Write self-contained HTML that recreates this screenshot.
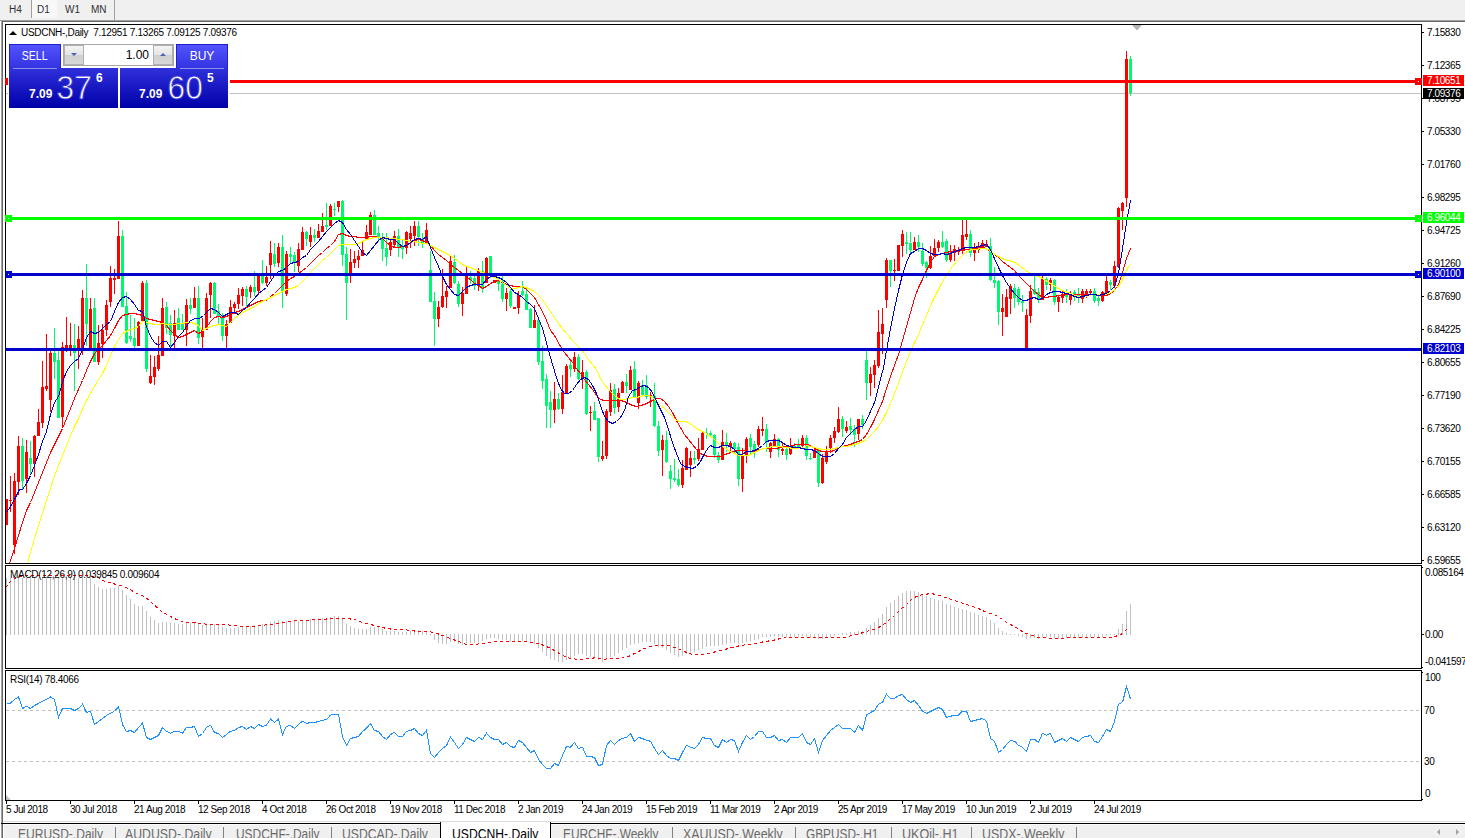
<!DOCTYPE html><html><head><meta charset="utf-8"><title>USDCNH-,Daily</title><style>

html,body{margin:0;padding:0;}
body{width:1465px;height:838px;overflow:hidden;background:#fff;position:relative;font-family:"Liberation Sans",sans-serif;color:#000;}
.abs{position:absolute;}
.t{position:absolute;white-space:nowrap;line-height:1;}
.ax{position:absolute;left:1427px;font-size:10px;line-height:10px;white-space:nowrap;letter-spacing:-0.4px;}
.dt{position:absolute;top:804px;font-size:10px;line-height:11px;white-space:nowrap;letter-spacing:-0.45px;}
.tag{position:absolute;left:1423px;width:41px;height:11px;color:#fff;font-size:10px;line-height:11px;letter-spacing:-0.4px;text-indent:4px;white-space:nowrap;overflow:hidden;}
.tab{position:absolute;top:826px;font-size:14px;line-height:16px;color:#6a6a6a;white-space:nowrap;}
.sep{position:absolute;top:827px;width:1px;height:11px;background:#808080;}
.tb{position:absolute;top:3.5px;font-size:10px;line-height:12px;color:#303030;white-space:nowrap;}

</style></head><body>
<div class="abs" style="left:0;top:0;width:1465px;height:20px;background:#f0f0f0"></div>
<div class="abs" style="left:32px;top:0;width:25px;height:18px;background:#f8f8f8"></div>
<div class="abs" style="left:31px;top:0;width:1px;height:18px;background:#a0a0a0"></div>
<div class="abs" style="left:114px;top:0;width:1px;height:20px;background:#a0a0a0"></div>
<div class="tb" style="left:9px">H4</div><div class="tb" style="left:37px">D1</div><div class="tb" style="left:65px">W1</div><div class="tb" style="left:91px">MN</div>
<div class="abs" style="left:0;top:20px;width:1465px;height:1px;background:#a0a0a0"></div>
<div class="abs" style="left:1px;top:21px;width:1464px;height:1px;background:#696969"></div>
<div class="abs" style="left:1px;top:21px;width:1px;height:800px;background:#a0a0a0"></div>
<div class="abs" style="left:2px;top:21px;width:1px;height:800px;background:#696969"></div>
<svg class="abs" style="left:0;top:0" width="1465" height="838" viewBox="0 0 1465 838"><defs><clipPath id="cm"><rect x="6" y="25" width="1415" height="538"/></clipPath><clipPath id="c2"><rect x="6" y="566" width="1415" height="102"/></clipPath><clipPath id="c3"><rect x="6" y="671" width="1415" height="129"/></clipPath></defs>
<rect x="6" y="93" width="1415" height="1" fill="#c0c0c0"/>
<g clip-path="url(#cm)" shape-rendering="crispEdges">
<rect x="6" y="499" width="1" height="26" fill="#ff0000"/>
<rect x="5" y="499" width="3" height="26" fill="#ff0000"/>
<rect x="10" y="476" width="1" height="36" fill="#ff0000"/>
<rect x="9" y="500" width="3" height="1" fill="#ff0000"/>
<rect x="14" y="473" width="1" height="81" fill="#ff0000"/>
<rect x="13" y="481" width="3" height="64" fill="#ff0000"/>
<rect x="18" y="436" width="1" height="59" fill="#ff0000"/>
<rect x="17" y="446" width="3" height="36" fill="#ff0000"/>
<rect x="22" y="438" width="1" height="51" fill="#00f870"/>
<rect x="21" y="446" width="3" height="35" fill="#00f870"/>
<rect x="26" y="440" width="1" height="53" fill="#ff0000"/>
<rect x="25" y="452" width="3" height="27" fill="#ff0000"/>
<rect x="30" y="441" width="1" height="33" fill="#00f870"/>
<rect x="29" y="458" width="3" height="6" fill="#00f870"/>
<rect x="34" y="435" width="1" height="42" fill="#ff0000"/>
<rect x="33" y="436" width="3" height="28" fill="#ff0000"/>
<rect x="38" y="409" width="1" height="27" fill="#ff0000"/>
<rect x="37" y="422" width="3" height="14" fill="#ff0000"/>
<rect x="42" y="361" width="1" height="67" fill="#ff0000"/>
<rect x="41" y="387" width="3" height="36" fill="#ff0000"/>
<rect x="46" y="334" width="1" height="57" fill="#ff0000"/>
<rect x="45" y="386" width="3" height="3" fill="#ff0000"/>
<rect x="50" y="350" width="1" height="62" fill="#ff0000"/>
<rect x="49" y="353" width="3" height="47" fill="#ff0000"/>
<rect x="54" y="328" width="1" height="51" fill="#00f870"/>
<rect x="53" y="353" width="3" height="9" fill="#00f870"/>
<rect x="58" y="350" width="1" height="68" fill="#00f870"/>
<rect x="57" y="360" width="3" height="58" fill="#00f870"/>
<rect x="62" y="342" width="1" height="86" fill="#ff0000"/>
<rect x="61" y="347" width="3" height="70" fill="#ff0000"/>
<rect x="66" y="317" width="1" height="35" fill="#ff0000"/>
<rect x="65" y="345" width="3" height="4" fill="#ff0000"/>
<rect x="70" y="323" width="1" height="33" fill="#ff0000"/>
<rect x="69" y="345" width="3" height="4" fill="#ff0000"/>
<rect x="74" y="324" width="1" height="67" fill="#00f870"/>
<rect x="73" y="345" width="3" height="8" fill="#00f870"/>
<rect x="78" y="326" width="1" height="43" fill="#ff0000"/>
<rect x="77" y="339" width="3" height="10" fill="#ff0000"/>
<rect x="82" y="290" width="1" height="65" fill="#ff0000"/>
<rect x="81" y="298" width="3" height="52" fill="#ff0000"/>
<rect x="86" y="264" width="1" height="82" fill="#00f870"/>
<rect x="85" y="298" width="3" height="26" fill="#00f870"/>
<rect x="90" y="298" width="1" height="51" fill="#ff0000"/>
<rect x="89" y="309" width="3" height="40" fill="#ff0000"/>
<rect x="94" y="298" width="1" height="64" fill="#00f870"/>
<rect x="93" y="308" width="3" height="54" fill="#00f870"/>
<rect x="98" y="325" width="1" height="40" fill="#ff0000"/>
<rect x="97" y="343" width="3" height="19" fill="#ff0000"/>
<rect x="102" y="324" width="1" height="34" fill="#ff0000"/>
<rect x="101" y="330" width="3" height="14" fill="#ff0000"/>
<rect x="106" y="300" width="1" height="36" fill="#ff0000"/>
<rect x="105" y="305" width="3" height="25" fill="#ff0000"/>
<rect x="110" y="266" width="1" height="41" fill="#ff0000"/>
<rect x="109" y="278" width="3" height="24" fill="#ff0000"/>
<rect x="114" y="269" width="1" height="25" fill="#ff0000"/>
<rect x="113" y="278" width="3" height="2" fill="#ff0000"/>
<rect x="118" y="221" width="1" height="58" fill="#ff0000"/>
<rect x="117" y="236" width="3" height="43" fill="#ff0000"/>
<rect x="122" y="230" width="1" height="77" fill="#00f870"/>
<rect x="121" y="236" width="3" height="71" fill="#00f870"/>
<rect x="126" y="292" width="1" height="52" fill="#00f870"/>
<rect x="125" y="306" width="3" height="37" fill="#00f870"/>
<rect x="130" y="315" width="1" height="27" fill="#00f870"/>
<rect x="129" y="336" width="3" height="3" fill="#00f870"/>
<rect x="134" y="318" width="1" height="30" fill="#00f870"/>
<rect x="133" y="338" width="3" height="8" fill="#00f870"/>
<rect x="138" y="321" width="1" height="25" fill="#ff0000"/>
<rect x="137" y="322" width="3" height="24" fill="#ff0000"/>
<rect x="142" y="281" width="1" height="40" fill="#ff0000"/>
<rect x="141" y="283" width="3" height="38" fill="#ff0000"/>
<rect x="146" y="280" width="1" height="92" fill="#00f870"/>
<rect x="145" y="283" width="3" height="86" fill="#00f870"/>
<rect x="150" y="355" width="1" height="29" fill="#ff0000"/>
<rect x="149" y="376" width="3" height="7" fill="#ff0000"/>
<rect x="154" y="356" width="1" height="29" fill="#ff0000"/>
<rect x="153" y="367" width="3" height="10" fill="#ff0000"/>
<rect x="158" y="336" width="1" height="35" fill="#ff0000"/>
<rect x="157" y="355" width="3" height="14" fill="#ff0000"/>
<rect x="162" y="298" width="1" height="58" fill="#ff0000"/>
<rect x="161" y="308" width="3" height="48" fill="#ff0000"/>
<rect x="166" y="302" width="1" height="32" fill="#00f870"/>
<rect x="165" y="307" width="3" height="21" fill="#00f870"/>
<rect x="170" y="315" width="1" height="33" fill="#00f870"/>
<rect x="169" y="323" width="3" height="12" fill="#00f870"/>
<rect x="174" y="310" width="1" height="38" fill="#ff0000"/>
<rect x="173" y="323" width="3" height="13" fill="#ff0000"/>
<rect x="178" y="308" width="1" height="22" fill="#00f870"/>
<rect x="177" y="318" width="3" height="12" fill="#00f870"/>
<rect x="182" y="314" width="1" height="16" fill="#00f870"/>
<rect x="181" y="323" width="3" height="7" fill="#00f870"/>
<rect x="186" y="299" width="1" height="47" fill="#ff0000"/>
<rect x="185" y="305" width="3" height="25" fill="#ff0000"/>
<rect x="190" y="298" width="1" height="16" fill="#00f870"/>
<rect x="189" y="305" width="3" height="4" fill="#00f870"/>
<rect x="194" y="287" width="1" height="21" fill="#ff0000"/>
<rect x="193" y="298" width="3" height="10" fill="#ff0000"/>
<rect x="198" y="286" width="1" height="58" fill="#00f870"/>
<rect x="197" y="298" width="3" height="40" fill="#00f870"/>
<rect x="202" y="318" width="1" height="30" fill="#ff0000"/>
<rect x="201" y="330" width="3" height="7" fill="#ff0000"/>
<rect x="206" y="293" width="1" height="37" fill="#ff0000"/>
<rect x="205" y="298" width="3" height="32" fill="#ff0000"/>
<rect x="210" y="282" width="1" height="36" fill="#ff0000"/>
<rect x="209" y="283" width="3" height="12" fill="#ff0000"/>
<rect x="214" y="282" width="1" height="32" fill="#00f870"/>
<rect x="213" y="283" width="3" height="31" fill="#00f870"/>
<rect x="218" y="304" width="1" height="20" fill="#00f870"/>
<rect x="217" y="311" width="3" height="6" fill="#00f870"/>
<rect x="222" y="313" width="1" height="28" fill="#00f870"/>
<rect x="221" y="317" width="3" height="19" fill="#00f870"/>
<rect x="226" y="320" width="1" height="28" fill="#ff0000"/>
<rect x="225" y="324" width="3" height="12" fill="#ff0000"/>
<rect x="230" y="300" width="1" height="23" fill="#ff0000"/>
<rect x="229" y="307" width="3" height="16" fill="#ff0000"/>
<rect x="234" y="302" width="1" height="12" fill="#ff0000"/>
<rect x="233" y="304" width="3" height="4" fill="#ff0000"/>
<rect x="238" y="288" width="1" height="21" fill="#ff0000"/>
<rect x="237" y="295" width="3" height="9" fill="#ff0000"/>
<rect x="242" y="287" width="1" height="19" fill="#ff0000"/>
<rect x="241" y="289" width="3" height="7" fill="#ff0000"/>
<rect x="246" y="286" width="1" height="22" fill="#00f870"/>
<rect x="245" y="289" width="3" height="8" fill="#00f870"/>
<rect x="250" y="285" width="1" height="13" fill="#ff0000"/>
<rect x="249" y="287" width="3" height="5" fill="#ff0000"/>
<rect x="254" y="271" width="1" height="25" fill="#00f870"/>
<rect x="253" y="287" width="3" height="5" fill="#00f870"/>
<rect x="258" y="274" width="1" height="21" fill="#ff0000"/>
<rect x="257" y="276" width="3" height="15" fill="#ff0000"/>
<rect x="262" y="260" width="1" height="24" fill="#00f870"/>
<rect x="261" y="276" width="3" height="7" fill="#00f870"/>
<rect x="266" y="266" width="1" height="20" fill="#ff0000"/>
<rect x="265" y="277" width="3" height="6" fill="#ff0000"/>
<rect x="270" y="241" width="1" height="38" fill="#ff0000"/>
<rect x="269" y="253" width="3" height="12" fill="#ff0000"/>
<rect x="274" y="243" width="1" height="24" fill="#00f870"/>
<rect x="273" y="254" width="3" height="10" fill="#00f870"/>
<rect x="278" y="243" width="1" height="24" fill="#ff0000"/>
<rect x="277" y="247" width="3" height="16" fill="#ff0000"/>
<rect x="282" y="235" width="1" height="73" fill="#00f870"/>
<rect x="281" y="247" width="3" height="44" fill="#00f870"/>
<rect x="286" y="251" width="1" height="45" fill="#ff0000"/>
<rect x="285" y="254" width="3" height="40" fill="#ff0000"/>
<rect x="290" y="247" width="1" height="16" fill="#00f870"/>
<rect x="289" y="254" width="3" height="3" fill="#00f870"/>
<rect x="294" y="252" width="1" height="20" fill="#00f870"/>
<rect x="293" y="255" width="3" height="7" fill="#00f870"/>
<rect x="298" y="243" width="1" height="29" fill="#ff0000"/>
<rect x="297" y="249" width="3" height="17" fill="#ff0000"/>
<rect x="302" y="227" width="1" height="23" fill="#ff0000"/>
<rect x="301" y="232" width="3" height="18" fill="#ff0000"/>
<rect x="306" y="231" width="1" height="15" fill="#00f870"/>
<rect x="305" y="232" width="3" height="7" fill="#00f870"/>
<rect x="310" y="227" width="1" height="20" fill="#ff0000"/>
<rect x="309" y="235" width="3" height="7" fill="#ff0000"/>
<rect x="314" y="229" width="1" height="13" fill="#00f870"/>
<rect x="313" y="235" width="3" height="3" fill="#00f870"/>
<rect x="318" y="224" width="1" height="14" fill="#ff0000"/>
<rect x="317" y="231" width="3" height="7" fill="#ff0000"/>
<rect x="322" y="213" width="1" height="19" fill="#ff0000"/>
<rect x="321" y="226" width="3" height="6" fill="#ff0000"/>
<rect x="326" y="203" width="1" height="27" fill="#00f870"/>
<rect x="325" y="225" width="3" height="2" fill="#00f870"/>
<rect x="330" y="204" width="1" height="22" fill="#ff0000"/>
<rect x="329" y="206" width="3" height="20" fill="#ff0000"/>
<rect x="334" y="203" width="1" height="13" fill="#00f870"/>
<rect x="333" y="209" width="3" height="1" fill="#00f870"/>
<rect x="338" y="201" width="1" height="11" fill="#ff0000"/>
<rect x="337" y="201" width="3" height="6" fill="#ff0000"/>
<rect x="342" y="200" width="1" height="66" fill="#00f870"/>
<rect x="341" y="201" width="3" height="54" fill="#00f870"/>
<rect x="346" y="247" width="1" height="73" fill="#00f870"/>
<rect x="345" y="254" width="3" height="29" fill="#00f870"/>
<rect x="350" y="249" width="1" height="34" fill="#ff0000"/>
<rect x="349" y="262" width="3" height="14" fill="#ff0000"/>
<rect x="354" y="251" width="1" height="17" fill="#ff0000"/>
<rect x="353" y="259" width="3" height="4" fill="#ff0000"/>
<rect x="358" y="250" width="1" height="18" fill="#ff0000"/>
<rect x="357" y="256" width="3" height="4" fill="#ff0000"/>
<rect x="362" y="242" width="1" height="14" fill="#ff0000"/>
<rect x="361" y="250" width="3" height="6" fill="#ff0000"/>
<rect x="366" y="225" width="1" height="15" fill="#ff0000"/>
<rect x="365" y="232" width="3" height="8" fill="#ff0000"/>
<rect x="370" y="212" width="1" height="23" fill="#ff0000"/>
<rect x="369" y="215" width="3" height="20" fill="#ff0000"/>
<rect x="374" y="210" width="1" height="25" fill="#00f870"/>
<rect x="373" y="215" width="3" height="20" fill="#00f870"/>
<rect x="378" y="226" width="1" height="16" fill="#00f870"/>
<rect x="377" y="233" width="3" height="4" fill="#00f870"/>
<rect x="382" y="233" width="1" height="28" fill="#00f870"/>
<rect x="381" y="237" width="3" height="12" fill="#00f870"/>
<rect x="386" y="233" width="1" height="33" fill="#00f870"/>
<rect x="385" y="248" width="3" height="9" fill="#00f870"/>
<rect x="390" y="239" width="1" height="17" fill="#ff0000"/>
<rect x="389" y="242" width="3" height="8" fill="#ff0000"/>
<rect x="394" y="231" width="1" height="17" fill="#ff0000"/>
<rect x="393" y="236" width="3" height="9" fill="#ff0000"/>
<rect x="398" y="229" width="1" height="28" fill="#00f870"/>
<rect x="397" y="236" width="3" height="12" fill="#00f870"/>
<rect x="402" y="240" width="1" height="19" fill="#00f870"/>
<rect x="401" y="246" width="3" height="3" fill="#00f870"/>
<rect x="406" y="231" width="1" height="23" fill="#ff0000"/>
<rect x="405" y="232" width="3" height="16" fill="#ff0000"/>
<rect x="410" y="226" width="1" height="22" fill="#ff0000"/>
<rect x="409" y="233" width="3" height="6" fill="#ff0000"/>
<rect x="414" y="221" width="1" height="25" fill="#ff0000"/>
<rect x="413" y="226" width="3" height="10" fill="#ff0000"/>
<rect x="418" y="221" width="1" height="25" fill="#00f870"/>
<rect x="417" y="226" width="3" height="11" fill="#00f870"/>
<rect x="422" y="233" width="1" height="15" fill="#00f870"/>
<rect x="421" y="239" width="3" height="4" fill="#00f870"/>
<rect x="426" y="223" width="1" height="20" fill="#ff0000"/>
<rect x="425" y="230" width="3" height="13" fill="#ff0000"/>
<rect x="430" y="251" width="1" height="51" fill="#00f870"/>
<rect x="429" y="270" width="3" height="32" fill="#00f870"/>
<rect x="434" y="292" width="1" height="54" fill="#00f870"/>
<rect x="433" y="301" width="3" height="18" fill="#00f870"/>
<rect x="438" y="301" width="1" height="26" fill="#ff0000"/>
<rect x="437" y="307" width="3" height="12" fill="#ff0000"/>
<rect x="442" y="269" width="1" height="39" fill="#ff0000"/>
<rect x="441" y="296" width="3" height="11" fill="#ff0000"/>
<rect x="446" y="286" width="1" height="22" fill="#ff0000"/>
<rect x="445" y="291" width="3" height="6" fill="#ff0000"/>
<rect x="450" y="256" width="1" height="32" fill="#ff0000"/>
<rect x="449" y="261" width="3" height="27" fill="#ff0000"/>
<rect x="454" y="255" width="1" height="29" fill="#00f870"/>
<rect x="453" y="262" width="3" height="21" fill="#00f870"/>
<rect x="458" y="281" width="1" height="26" fill="#00f870"/>
<rect x="457" y="284" width="3" height="20" fill="#00f870"/>
<rect x="462" y="287" width="1" height="29" fill="#ff0000"/>
<rect x="461" y="293" width="3" height="11" fill="#ff0000"/>
<rect x="466" y="266" width="1" height="28" fill="#ff0000"/>
<rect x="465" y="273" width="3" height="21" fill="#ff0000"/>
<rect x="470" y="271" width="1" height="13" fill="#00f870"/>
<rect x="469" y="277" width="3" height="3" fill="#00f870"/>
<rect x="474" y="276" width="1" height="14" fill="#00f870"/>
<rect x="473" y="278" width="3" height="8" fill="#00f870"/>
<rect x="478" y="268" width="1" height="23" fill="#ff0000"/>
<rect x="477" y="271" width="3" height="15" fill="#ff0000"/>
<rect x="482" y="261" width="1" height="32" fill="#00f870"/>
<rect x="481" y="271" width="3" height="18" fill="#00f870"/>
<rect x="486" y="257" width="1" height="26" fill="#ff0000"/>
<rect x="485" y="258" width="3" height="25" fill="#ff0000"/>
<rect x="490" y="256" width="1" height="22" fill="#00f870"/>
<rect x="489" y="256" width="3" height="20" fill="#00f870"/>
<rect x="494" y="280" width="1" height="3" fill="#ff0000"/>
<rect x="493" y="280" width="3" height="3" fill="#ff0000"/>
<rect x="498" y="277" width="1" height="14" fill="#00f870"/>
<rect x="497" y="280" width="3" height="4" fill="#00f870"/>
<rect x="502" y="276" width="1" height="26" fill="#00f870"/>
<rect x="501" y="284" width="3" height="15" fill="#00f870"/>
<rect x="506" y="288" width="1" height="23" fill="#ff0000"/>
<rect x="505" y="293" width="3" height="6" fill="#ff0000"/>
<rect x="510" y="288" width="1" height="20" fill="#00f870"/>
<rect x="509" y="291" width="3" height="15" fill="#00f870"/>
<rect x="514" y="307" width="1" height="2" fill="#ff0000"/>
<rect x="513" y="307" width="3" height="2" fill="#ff0000"/>
<rect x="518" y="291" width="1" height="23" fill="#ff0000"/>
<rect x="517" y="295" width="3" height="13" fill="#ff0000"/>
<rect x="522" y="281" width="1" height="15" fill="#00f870"/>
<rect x="521" y="291" width="3" height="4" fill="#00f870"/>
<rect x="526" y="288" width="1" height="22" fill="#00f870"/>
<rect x="525" y="294" width="3" height="16" fill="#00f870"/>
<rect x="530" y="308" width="1" height="20" fill="#00f870"/>
<rect x="529" y="309" width="3" height="19" fill="#00f870"/>
<rect x="534" y="305" width="1" height="23" fill="#ff0000"/>
<rect x="533" y="320" width="3" height="8" fill="#ff0000"/>
<rect x="538" y="319" width="1" height="46" fill="#00f870"/>
<rect x="537" y="320" width="3" height="42" fill="#00f870"/>
<rect x="542" y="346" width="1" height="43" fill="#00f870"/>
<rect x="541" y="361" width="3" height="20" fill="#00f870"/>
<rect x="546" y="374" width="1" height="54" fill="#00f870"/>
<rect x="545" y="379" width="3" height="27" fill="#00f870"/>
<rect x="550" y="391" width="1" height="37" fill="#00f870"/>
<rect x="549" y="402" width="3" height="8" fill="#00f870"/>
<rect x="554" y="382" width="1" height="41" fill="#ff0000"/>
<rect x="553" y="399" width="3" height="11" fill="#ff0000"/>
<rect x="558" y="393" width="1" height="17" fill="#00f870"/>
<rect x="557" y="399" width="3" height="10" fill="#00f870"/>
<rect x="562" y="375" width="1" height="39" fill="#ff0000"/>
<rect x="561" y="392" width="3" height="17" fill="#ff0000"/>
<rect x="566" y="364" width="1" height="29" fill="#ff0000"/>
<rect x="565" y="366" width="3" height="27" fill="#ff0000"/>
<rect x="570" y="361" width="1" height="16" fill="#00f870"/>
<rect x="569" y="365" width="3" height="4" fill="#00f870"/>
<rect x="574" y="352" width="1" height="20" fill="#ff0000"/>
<rect x="573" y="357" width="3" height="12" fill="#ff0000"/>
<rect x="578" y="354" width="1" height="26" fill="#00f870"/>
<rect x="577" y="357" width="3" height="22" fill="#00f870"/>
<rect x="582" y="360" width="1" height="29" fill="#ff0000"/>
<rect x="581" y="372" width="3" height="6" fill="#ff0000"/>
<rect x="586" y="370" width="1" height="45" fill="#00f870"/>
<rect x="585" y="372" width="3" height="42" fill="#00f870"/>
<rect x="590" y="406" width="1" height="25" fill="#ff0000"/>
<rect x="589" y="412" width="3" height="1" fill="#ff0000"/>
<rect x="594" y="402" width="1" height="18" fill="#00f870"/>
<rect x="593" y="411" width="3" height="9" fill="#00f870"/>
<rect x="598" y="418" width="1" height="44" fill="#00f870"/>
<rect x="597" y="418" width="3" height="39" fill="#00f870"/>
<rect x="602" y="441" width="1" height="20" fill="#ff0000"/>
<rect x="601" y="456" width="3" height="3" fill="#ff0000"/>
<rect x="606" y="409" width="1" height="50" fill="#ff0000"/>
<rect x="605" y="411" width="3" height="45" fill="#ff0000"/>
<rect x="610" y="383" width="1" height="33" fill="#ff0000"/>
<rect x="609" y="390" width="3" height="22" fill="#ff0000"/>
<rect x="614" y="384" width="1" height="30" fill="#00f870"/>
<rect x="613" y="389" width="3" height="19" fill="#00f870"/>
<rect x="618" y="388" width="1" height="24" fill="#ff0000"/>
<rect x="617" y="393" width="3" height="14" fill="#ff0000"/>
<rect x="622" y="381" width="1" height="12" fill="#ff0000"/>
<rect x="621" y="382" width="3" height="11" fill="#ff0000"/>
<rect x="626" y="374" width="1" height="19" fill="#00f870"/>
<rect x="625" y="382" width="3" height="4" fill="#00f870"/>
<rect x="630" y="366" width="1" height="24" fill="#ff0000"/>
<rect x="629" y="370" width="3" height="20" fill="#ff0000"/>
<rect x="634" y="361" width="1" height="36" fill="#00f870"/>
<rect x="633" y="369" width="3" height="28" fill="#00f870"/>
<rect x="638" y="381" width="1" height="28" fill="#ff0000"/>
<rect x="637" y="383" width="3" height="20" fill="#ff0000"/>
<rect x="642" y="380" width="1" height="15" fill="#00f870"/>
<rect x="641" y="385" width="3" height="10" fill="#00f870"/>
<rect x="646" y="375" width="1" height="24" fill="#00f870"/>
<rect x="645" y="385" width="3" height="12" fill="#00f870"/>
<rect x="650" y="392" width="1" height="15" fill="#ff0000"/>
<rect x="649" y="395" width="3" height="1" fill="#ff0000"/>
<rect x="654" y="383" width="1" height="44" fill="#00f870"/>
<rect x="653" y="396" width="3" height="30" fill="#00f870"/>
<rect x="658" y="421" width="1" height="35" fill="#00f870"/>
<rect x="657" y="426" width="3" height="25" fill="#00f870"/>
<rect x="662" y="435" width="1" height="41" fill="#ff0000"/>
<rect x="661" y="440" width="3" height="10" fill="#ff0000"/>
<rect x="666" y="431" width="1" height="32" fill="#00f870"/>
<rect x="665" y="440" width="3" height="22" fill="#00f870"/>
<rect x="670" y="465" width="1" height="24" fill="#00f870"/>
<rect x="669" y="471" width="3" height="8" fill="#00f870"/>
<rect x="674" y="459" width="1" height="23" fill="#00f870"/>
<rect x="673" y="478" width="3" height="2" fill="#00f870"/>
<rect x="678" y="469" width="1" height="18" fill="#00f870"/>
<rect x="677" y="479" width="3" height="6" fill="#00f870"/>
<rect x="682" y="460" width="1" height="28" fill="#ff0000"/>
<rect x="681" y="468" width="3" height="17" fill="#ff0000"/>
<rect x="686" y="447" width="1" height="23" fill="#ff0000"/>
<rect x="685" y="448" width="3" height="22" fill="#ff0000"/>
<rect x="690" y="451" width="1" height="26" fill="#ff0000"/>
<rect x="689" y="458" width="3" height="7" fill="#ff0000"/>
<rect x="694" y="451" width="1" height="13" fill="#00f870"/>
<rect x="693" y="458" width="3" height="2" fill="#00f870"/>
<rect x="698" y="438" width="1" height="23" fill="#ff0000"/>
<rect x="697" y="449" width="3" height="10" fill="#ff0000"/>
<rect x="702" y="431" width="1" height="19" fill="#ff0000"/>
<rect x="701" y="433" width="3" height="17" fill="#ff0000"/>
<rect x="706" y="428" width="1" height="11" fill="#00f870"/>
<rect x="705" y="433" width="3" height="1" fill="#00f870"/>
<rect x="710" y="431" width="1" height="6" fill="#00f870"/>
<rect x="709" y="433" width="3" height="2" fill="#00f870"/>
<rect x="714" y="434" width="1" height="24" fill="#00f870"/>
<rect x="713" y="435" width="3" height="20" fill="#00f870"/>
<rect x="718" y="452" width="1" height="11" fill="#00f870"/>
<rect x="717" y="455" width="3" height="5" fill="#00f870"/>
<rect x="722" y="430" width="1" height="30" fill="#ff0000"/>
<rect x="721" y="442" width="3" height="18" fill="#ff0000"/>
<rect x="726" y="433" width="1" height="19" fill="#00f870"/>
<rect x="725" y="442" width="3" height="4" fill="#00f870"/>
<rect x="730" y="441" width="1" height="11" fill="#ff0000"/>
<rect x="729" y="443" width="3" height="4" fill="#ff0000"/>
<rect x="734" y="442" width="1" height="11" fill="#00f870"/>
<rect x="733" y="443" width="3" height="6" fill="#00f870"/>
<rect x="738" y="443" width="1" height="43" fill="#00f870"/>
<rect x="737" y="447" width="3" height="32" fill="#00f870"/>
<rect x="742" y="448" width="1" height="44" fill="#ff0000"/>
<rect x="741" y="455" width="3" height="24" fill="#ff0000"/>
<rect x="746" y="437" width="1" height="26" fill="#ff0000"/>
<rect x="745" y="439" width="3" height="17" fill="#ff0000"/>
<rect x="750" y="434" width="1" height="21" fill="#00f870"/>
<rect x="749" y="438" width="3" height="9" fill="#00f870"/>
<rect x="754" y="441" width="1" height="17" fill="#00f870"/>
<rect x="753" y="444" width="3" height="6" fill="#00f870"/>
<rect x="758" y="426" width="1" height="21" fill="#ff0000"/>
<rect x="757" y="429" width="3" height="16" fill="#ff0000"/>
<rect x="762" y="417" width="1" height="19" fill="#ff0000"/>
<rect x="761" y="429" width="3" height="2" fill="#ff0000"/>
<rect x="766" y="424" width="1" height="28" fill="#00f870"/>
<rect x="765" y="429" width="3" height="13" fill="#00f870"/>
<rect x="770" y="442" width="1" height="16" fill="#ff0000"/>
<rect x="769" y="443" width="3" height="9" fill="#ff0000"/>
<rect x="774" y="434" width="1" height="12" fill="#ff0000"/>
<rect x="773" y="439" width="3" height="7" fill="#ff0000"/>
<rect x="778" y="438" width="1" height="19" fill="#00f870"/>
<rect x="777" y="439" width="3" height="11" fill="#00f870"/>
<rect x="782" y="443" width="1" height="12" fill="#ff0000"/>
<rect x="781" y="449" width="3" height="2" fill="#ff0000"/>
<rect x="786" y="447" width="1" height="13" fill="#00f870"/>
<rect x="785" y="449" width="3" height="6" fill="#00f870"/>
<rect x="790" y="438" width="1" height="17" fill="#ff0000"/>
<rect x="789" y="446" width="3" height="8" fill="#ff0000"/>
<rect x="794" y="443" width="1" height="6" fill="#00f870"/>
<rect x="793" y="446" width="3" height="1" fill="#00f870"/>
<rect x="798" y="439" width="1" height="9" fill="#00f870"/>
<rect x="797" y="445" width="3" height="2" fill="#00f870"/>
<rect x="802" y="435" width="1" height="12" fill="#ff0000"/>
<rect x="801" y="438" width="3" height="8" fill="#ff0000"/>
<rect x="806" y="435" width="1" height="25" fill="#00f870"/>
<rect x="805" y="438" width="3" height="18" fill="#00f870"/>
<rect x="810" y="453" width="1" height="7" fill="#00f870"/>
<rect x="809" y="458" width="3" height="1" fill="#00f870"/>
<rect x="814" y="448" width="1" height="10" fill="#ff0000"/>
<rect x="813" y="450" width="3" height="8" fill="#ff0000"/>
<rect x="818" y="448" width="1" height="39" fill="#00f870"/>
<rect x="817" y="450" width="3" height="33" fill="#00f870"/>
<rect x="822" y="454" width="1" height="30" fill="#ff0000"/>
<rect x="821" y="458" width="3" height="25" fill="#ff0000"/>
<rect x="826" y="446" width="1" height="18" fill="#ff0000"/>
<rect x="825" y="451" width="3" height="11" fill="#ff0000"/>
<rect x="830" y="435" width="1" height="18" fill="#ff0000"/>
<rect x="829" y="438" width="3" height="10" fill="#ff0000"/>
<rect x="834" y="427" width="1" height="16" fill="#ff0000"/>
<rect x="833" y="431" width="3" height="7" fill="#ff0000"/>
<rect x="838" y="407" width="1" height="26" fill="#ff0000"/>
<rect x="837" y="419" width="3" height="13" fill="#ff0000"/>
<rect x="842" y="416" width="1" height="21" fill="#00f870"/>
<rect x="841" y="419" width="3" height="10" fill="#00f870"/>
<rect x="846" y="421" width="1" height="12" fill="#ff0000"/>
<rect x="845" y="427" width="3" height="4" fill="#ff0000"/>
<rect x="850" y="418" width="1" height="17" fill="#00f870"/>
<rect x="849" y="426" width="3" height="4" fill="#00f870"/>
<rect x="854" y="425" width="1" height="22" fill="#00f870"/>
<rect x="853" y="429" width="3" height="6" fill="#00f870"/>
<rect x="858" y="419" width="1" height="21" fill="#ff0000"/>
<rect x="857" y="419" width="3" height="15" fill="#ff0000"/>
<rect x="862" y="415" width="1" height="14" fill="#00f870"/>
<rect x="861" y="419" width="3" height="6" fill="#00f870"/>
<rect x="866" y="351" width="1" height="49" fill="#00f870"/>
<rect x="865" y="360" width="3" height="23" fill="#00f870"/>
<rect x="870" y="367" width="1" height="29" fill="#ff0000"/>
<rect x="869" y="374" width="3" height="9" fill="#ff0000"/>
<rect x="874" y="360" width="1" height="28" fill="#ff0000"/>
<rect x="873" y="365" width="3" height="10" fill="#ff0000"/>
<rect x="878" y="310" width="1" height="58" fill="#ff0000"/>
<rect x="877" y="332" width="3" height="34" fill="#ff0000"/>
<rect x="882" y="308" width="1" height="46" fill="#ff0000"/>
<rect x="881" y="324" width="3" height="10" fill="#ff0000"/>
<rect x="886" y="258" width="1" height="50" fill="#ff0000"/>
<rect x="885" y="260" width="3" height="40" fill="#ff0000"/>
<rect x="890" y="260" width="1" height="27" fill="#00f870"/>
<rect x="889" y="260" width="3" height="11" fill="#00f870"/>
<rect x="894" y="259" width="1" height="22" fill="#ff0000"/>
<rect x="893" y="270" width="3" height="1" fill="#ff0000"/>
<rect x="898" y="245" width="1" height="26" fill="#ff0000"/>
<rect x="897" y="245" width="3" height="26" fill="#ff0000"/>
<rect x="902" y="230" width="1" height="27" fill="#ff0000"/>
<rect x="901" y="234" width="3" height="12" fill="#ff0000"/>
<rect x="906" y="232" width="1" height="22" fill="#00f870"/>
<rect x="905" y="242" width="3" height="2" fill="#00f870"/>
<rect x="910" y="232" width="1" height="21" fill="#00f870"/>
<rect x="909" y="243" width="3" height="7" fill="#00f870"/>
<rect x="914" y="237" width="1" height="13" fill="#ff0000"/>
<rect x="913" y="242" width="3" height="8" fill="#ff0000"/>
<rect x="918" y="235" width="1" height="17" fill="#00f870"/>
<rect x="917" y="242" width="3" height="5" fill="#00f870"/>
<rect x="922" y="243" width="1" height="23" fill="#00f870"/>
<rect x="921" y="251" width="3" height="13" fill="#00f870"/>
<rect x="926" y="261" width="1" height="17" fill="#00f870"/>
<rect x="925" y="262" width="3" height="6" fill="#00f870"/>
<rect x="930" y="246" width="1" height="23" fill="#ff0000"/>
<rect x="929" y="256" width="3" height="12" fill="#ff0000"/>
<rect x="934" y="239" width="1" height="17" fill="#ff0000"/>
<rect x="933" y="248" width="3" height="8" fill="#ff0000"/>
<rect x="938" y="240" width="1" height="12" fill="#ff0000"/>
<rect x="937" y="242" width="3" height="6" fill="#ff0000"/>
<rect x="942" y="231" width="1" height="17" fill="#00f870"/>
<rect x="941" y="242" width="3" height="5" fill="#00f870"/>
<rect x="946" y="239" width="1" height="23" fill="#00f870"/>
<rect x="945" y="241" width="3" height="19" fill="#00f870"/>
<rect x="950" y="245" width="1" height="17" fill="#ff0000"/>
<rect x="949" y="253" width="3" height="7" fill="#ff0000"/>
<rect x="954" y="245" width="1" height="16" fill="#ff0000"/>
<rect x="953" y="249" width="3" height="4" fill="#ff0000"/>
<rect x="958" y="247" width="1" height="8" fill="#ff0000"/>
<rect x="957" y="250" width="3" height="2" fill="#ff0000"/>
<rect x="962" y="220" width="1" height="34" fill="#ff0000"/>
<rect x="961" y="235" width="3" height="15" fill="#ff0000"/>
<rect x="966" y="220" width="1" height="20" fill="#ff0000"/>
<rect x="965" y="234" width="3" height="3" fill="#ff0000"/>
<rect x="970" y="230" width="1" height="27" fill="#00f870"/>
<rect x="969" y="234" width="3" height="19" fill="#00f870"/>
<rect x="974" y="243" width="1" height="18" fill="#ff0000"/>
<rect x="973" y="250" width="3" height="3" fill="#ff0000"/>
<rect x="978" y="242" width="1" height="11" fill="#ff0000"/>
<rect x="977" y="247" width="3" height="3" fill="#ff0000"/>
<rect x="982" y="240" width="1" height="8" fill="#ff0000"/>
<rect x="981" y="243" width="3" height="5" fill="#ff0000"/>
<rect x="986" y="240" width="1" height="7" fill="#ff0000"/>
<rect x="985" y="244" width="3" height="3" fill="#ff0000"/>
<rect x="990" y="238" width="1" height="43" fill="#00f870"/>
<rect x="989" y="246" width="3" height="34" fill="#00f870"/>
<rect x="994" y="267" width="1" height="21" fill="#00f870"/>
<rect x="993" y="280" width="3" height="3" fill="#00f870"/>
<rect x="998" y="280" width="1" height="45" fill="#00f870"/>
<rect x="997" y="281" width="3" height="31" fill="#00f870"/>
<rect x="1002" y="294" width="1" height="42" fill="#ff0000"/>
<rect x="1001" y="308" width="3" height="4" fill="#ff0000"/>
<rect x="1006" y="289" width="1" height="28" fill="#ff0000"/>
<rect x="1005" y="297" width="3" height="20" fill="#ff0000"/>
<rect x="1010" y="284" width="1" height="30" fill="#ff0000"/>
<rect x="1009" y="286" width="3" height="13" fill="#ff0000"/>
<rect x="1014" y="284" width="1" height="24" fill="#00f870"/>
<rect x="1013" y="288" width="3" height="10" fill="#00f870"/>
<rect x="1018" y="287" width="1" height="18" fill="#00f870"/>
<rect x="1017" y="289" width="3" height="13" fill="#00f870"/>
<rect x="1022" y="295" width="1" height="17" fill="#00f870"/>
<rect x="1021" y="301" width="3" height="2" fill="#00f870"/>
<rect x="1026" y="309" width="1" height="39" fill="#ff0000"/>
<rect x="1025" y="315" width="3" height="33" fill="#ff0000"/>
<rect x="1030" y="285" width="1" height="38" fill="#ff0000"/>
<rect x="1029" y="291" width="3" height="25" fill="#ff0000"/>
<rect x="1034" y="275" width="1" height="20" fill="#00f870"/>
<rect x="1033" y="289" width="3" height="5" fill="#00f870"/>
<rect x="1038" y="288" width="1" height="15" fill="#00f870"/>
<rect x="1037" y="292" width="3" height="7" fill="#00f870"/>
<rect x="1042" y="276" width="1" height="24" fill="#ff0000"/>
<rect x="1041" y="279" width="3" height="21" fill="#ff0000"/>
<rect x="1046" y="277" width="1" height="13" fill="#00f870"/>
<rect x="1045" y="279" width="3" height="6" fill="#00f870"/>
<rect x="1050" y="278" width="1" height="13" fill="#ff0000"/>
<rect x="1049" y="280" width="3" height="5" fill="#ff0000"/>
<rect x="1054" y="279" width="1" height="26" fill="#00f870"/>
<rect x="1053" y="280" width="3" height="22" fill="#00f870"/>
<rect x="1058" y="296" width="1" height="16" fill="#ff0000"/>
<rect x="1057" y="297" width="3" height="5" fill="#ff0000"/>
<rect x="1062" y="290" width="1" height="13" fill="#ff0000"/>
<rect x="1061" y="294" width="3" height="4" fill="#ff0000"/>
<rect x="1066" y="289" width="1" height="14" fill="#00f870"/>
<rect x="1065" y="294" width="3" height="3" fill="#00f870"/>
<rect x="1070" y="291" width="1" height="14" fill="#ff0000"/>
<rect x="1069" y="294" width="3" height="6" fill="#ff0000"/>
<rect x="1074" y="290" width="1" height="11" fill="#00f870"/>
<rect x="1073" y="292" width="3" height="3" fill="#00f870"/>
<rect x="1078" y="288" width="1" height="15" fill="#00f870"/>
<rect x="1077" y="295" width="3" height="3" fill="#00f870"/>
<rect x="1082" y="289" width="1" height="14" fill="#ff0000"/>
<rect x="1081" y="291" width="3" height="8" fill="#ff0000"/>
<rect x="1086" y="289" width="1" height="9" fill="#ff0000"/>
<rect x="1085" y="291" width="3" height="3" fill="#ff0000"/>
<rect x="1090" y="289" width="1" height="5" fill="#ff0000"/>
<rect x="1089" y="291" width="3" height="2" fill="#ff0000"/>
<rect x="1094" y="288" width="1" height="15" fill="#00f870"/>
<rect x="1093" y="291" width="3" height="10" fill="#00f870"/>
<rect x="1098" y="294" width="1" height="12" fill="#00f870"/>
<rect x="1097" y="298" width="3" height="3" fill="#00f870"/>
<rect x="1102" y="291" width="1" height="11" fill="#ff0000"/>
<rect x="1101" y="292" width="3" height="9" fill="#ff0000"/>
<rect x="1106" y="276" width="1" height="17" fill="#ff0000"/>
<rect x="1105" y="281" width="3" height="12" fill="#ff0000"/>
<rect x="1110" y="280" width="1" height="10" fill="#00f870"/>
<rect x="1109" y="282" width="3" height="3" fill="#00f870"/>
<rect x="1114" y="261" width="1" height="27" fill="#ff0000"/>
<rect x="1113" y="266" width="3" height="20" fill="#ff0000"/>
<rect x="1118" y="207" width="1" height="61" fill="#ff0000"/>
<rect x="1117" y="208" width="3" height="59" fill="#ff0000"/>
<rect x="1122" y="202" width="1" height="28" fill="#ff0000"/>
<rect x="1121" y="203" width="3" height="8" fill="#ff0000"/>
<rect x="1126" y="51" width="1" height="156" fill="#ff0000"/>
<rect x="1125" y="59" width="3" height="139" fill="#ff0000"/>
<rect x="1130" y="56" width="1" height="40" fill="#00f870"/>
<rect x="1129" y="59" width="3" height="34" fill="#00f870"/>
</g>
<g clip-path="url(#cm)" shape-rendering="crispEdges">
<polyline points="9.5,563.5 14.5,548.5 18.5,535.5 22.5,522.5 26.5,510.5 30.5,502.5 34.5,492.5 38.5,482.5 42.5,472.5 46.5,462.5 50.5,452.5 54.5,444.5 58.5,436.5 62.5,428.5 66.5,418.5 70.5,408.5 74.5,398.5 78.5,389.5 82.5,380.5 86.5,370.5 90.5,361.5 94.5,353.5 98.5,349.5 102.5,345.5 106.5,340.5 110.5,335.5 114.5,328.5 118.5,320.5 122.5,315.5 126.5,314.5 130.5,313.5 134.5,313.5 138.5,314.5 142.5,315.5 146.5,318.5 150.5,319.5 154.5,320.5 158.5,321.5 162.5,322.5 166.5,325.5 170.5,330.5 174.5,334.5 178.5,337.5 182.5,336.5 186.5,334.5 190.5,332.5 194.5,330.5 198.5,333.5 202.5,331.5 206.5,327.5 210.5,321.5 214.5,317.5 218.5,316.5 222.5,317.5 226.5,316.5 230.5,314.5 234.5,312.5 238.5,311.5 242.5,309.5 246.5,307.5 250.5,305.5 254.5,303.5 258.5,301.5 262.5,300.5 266.5,300.5 270.5,296.5 274.5,293.5 278.5,289.5 282.5,285.5 286.5,281.5 290.5,278.5 294.5,276.5 298.5,273.5 302.5,270.5 306.5,267.5 310.5,263.5 314.5,259.5 318.5,255.5 322.5,252.5 326.5,248.5 330.5,245.5 334.5,241.5 338.5,234.5 342.5,233.5 346.5,235.5 350.5,236.5 354.5,236.5 358.5,237.5 362.5,237.5 366.5,237.5 370.5,236.5 374.5,236.5 378.5,237.5 382.5,238.5 386.5,242.5 390.5,245.5 394.5,247.5 398.5,247.5 402.5,246.5 406.5,245.5 410.5,242.5 414.5,240.5 418.5,239.5 422.5,240.5 426.5,242.5 430.5,245.5 434.5,250.5 438.5,254.5 442.5,257.5 446.5,260.5 450.5,264.5 454.5,267.5 458.5,270.5 462.5,273.5 466.5,277.5 470.5,279.5 474.5,283.5 478.5,285.5 482.5,288.5 486.5,286.5 490.5,283.5 494.5,281.5 498.5,280.5 502.5,282.5 506.5,284.5 510.5,285.5 514.5,286.5 518.5,286.5 522.5,286.5 526.5,289.5 530.5,293.5 534.5,297.5 538.5,304.5 542.5,311.5 546.5,320.5 550.5,330.5 554.5,335.5 560.5,346.5 564.5,352.5 568.5,357.5 572.5,362.5 576.5,368.5 580.5,373.5 584.5,379.5 588.5,384.5 592.5,389.5 596.5,395.5 600.5,399.5 604.5,400.5 608.5,400.5 612.5,400.5 616.5,400.5 620.5,400.5 624.5,401.5 628.5,403.5 632.5,405.5 636.5,406.5 640.5,405.5 644.5,404.5 648.5,402.5 652.5,400.5 656.5,398.5 660.5,398.5 664.5,401.5 668.5,406.5 672.5,412.5 676.5,420.5 680.5,427.5 684.5,434.5 688.5,439.5 692.5,444.5 696.5,449.5 700.5,453.5 704.5,455.5 708.5,456.5 712.5,456.5 716.5,456.5 720.5,456.5 724.5,454.5 728.5,453.5 732.5,451.5 736.5,450.5 740.5,450.5 744.5,450.5 748.5,451.5 752.5,451.5 756.5,450.5 760.5,449.5 764.5,448.5 768.5,448.5 772.5,448.5 776.5,448.5 780.5,447.5 784.5,446.5 788.5,446.5 792.5,445.5 796.5,444.5 800.5,444.5 804.5,444.5 806.5,444.5 810.5,445.5 814.5,448.5 818.5,450.5 822.5,451.5 826.5,451.5 830.5,451.5 834.5,450.5 838.5,447.5 842.5,446.5 846.5,445.5 850.5,444.5 854.5,442.5 858.5,441.5 862.5,439.5 866.5,434.5 870.5,427.5 874.5,419.5 878.5,410.5 882.5,401.5 886.5,388.5 890.5,376.5 894.5,365.5 898.5,354.5 902.5,340.5 906.5,326.5 910.5,312.5 914.5,298.5 918.5,287.5 922.5,279.5 926.5,270.5 930.5,262.5 934.5,256.5 938.5,254.5 942.5,253.5 946.5,252.5 950.5,251.5 954.5,251.5 958.5,250.5 962.5,250.5 966.5,249.5 970.5,249.5 974.5,248.5 978.5,248.5 982.5,247.5 986.5,248.5 990.5,251.5 994.5,254.5 998.5,257.5 1002.5,261.5 1006.5,264.5 1010.5,267.5 1014.5,270.5 1018.5,275.5 1022.5,279.5 1026.5,283.5 1030.5,287.5 1034.5,291.5 1038.5,294.5 1042.5,297.5 1046.5,297.5 1050.5,296.5 1054.5,296.5 1058.5,295.5 1062.5,295.5 1066.5,294.5 1070.5,294.5 1074.5,294.5 1078.5,294.5 1082.5,294.5 1086.5,294.5 1090.5,294.5 1094.5,294.5 1098.5,295.5 1102.5,295.5 1106.5,295.5 1110.5,293.5 1114.5,290.5 1118.5,284.5 1122.5,272.5 1126.5,258.5 1130.5,248.5" fill="none" stroke="#ff0000" stroke-width="1" />
<polyline points="27.5,563.5 30.5,552.5 34.5,538.5 38.5,525.5 42.5,513.5 46.5,500.5 50.5,488.5 54.5,475.5 58.5,465.5 62.5,455.5 66.5,445.5 70.5,435.5 74.5,426.5 78.5,418.5 82.5,409.5 86.5,400.5 90.5,393.5 94.5,386.5 98.5,379.5 102.5,373.5 106.5,365.5 110.5,355.5 114.5,346.5 118.5,339.5 122.5,333.5 126.5,331.5 130.5,329.5 134.5,328.5 138.5,326.5 142.5,321.5 146.5,322.5 150.5,323.5 154.5,324.5 158.5,324.5 162.5,323.5 166.5,324.5 170.5,324.5 174.5,324.5 178.5,323.5 182.5,323.5 186.5,322.5 190.5,322.5 194.5,323.5 198.5,325.5 202.5,330.5 206.5,328.5 210.5,326.5 214.5,325.5 218.5,324.5 222.5,325.5 226.5,326.5 230.5,322.5 234.5,318.5 238.5,315.5 242.5,312.5 246.5,310.5 250.5,308.5 254.5,306.5 258.5,303.5 262.5,301.5 266.5,299.5 270.5,297.5 274.5,295.5 278.5,293.5 282.5,291.5 286.5,289.5 290.5,288.5 294.5,287.5 298.5,285.5 302.5,281.5 306.5,277.5 310.5,272.5 314.5,268.5 318.5,264.5 322.5,260.5 326.5,257.5 330.5,253.5 334.5,249.5 338.5,245.5 342.5,244.5 346.5,244.5 350.5,244.5 354.5,244.5 358.5,243.5 362.5,241.5 366.5,239.5 370.5,238.5 374.5,237.5 378.5,237.5 382.5,237.5 386.5,237.5 390.5,238.5 394.5,238.5 398.5,239.5 402.5,239.5 406.5,240.5 410.5,241.5 414.5,241.5 418.5,242.5 422.5,243.5 426.5,243.5 430.5,245.5 434.5,247.5 438.5,249.5 442.5,251.5 446.5,253.5 450.5,255.5 454.5,258.5 458.5,261.5 462.5,264.5 466.5,266.5 470.5,267.5 474.5,269.5 478.5,270.5 482.5,272.5 486.5,273.5 490.5,275.5 494.5,277.5 498.5,279.5 502.5,282.5 506.5,285.5 510.5,288.5 514.5,288.5 518.5,287.5 522.5,286.5 526.5,287.5 530.5,289.5 534.5,291.5 538.5,295.5 542.5,299.5 546.5,305.5 550.5,311.5 554.5,317.5 558.5,323.5 562.5,328.5 566.5,333.5 568.5,335.5 572.5,340.5 576.5,344.5 580.5,348.5 584.5,353.5 588.5,359.5 592.5,364.5 596.5,369.5 600.5,378.5 604.5,384.5 608.5,389.5 612.5,393.5 616.5,397.5 620.5,399.5 624.5,399.5 628.5,398.5 632.5,397.5 636.5,397.5 640.5,396.5 644.5,395.5 648.5,395.5 652.5,397.5 656.5,401.5 660.5,405.5 664.5,408.5 668.5,412.5 672.5,416.5 676.5,420.5 680.5,421.5 684.5,421.5 688.5,422.5 692.5,425.5 696.5,428.5 700.5,430.5 704.5,432.5 708.5,435.5 712.5,437.5 716.5,441.5 720.5,445.5 724.5,447.5 728.5,450.5 732.5,452.5 736.5,454.5 740.5,455.5 744.5,455.5 748.5,455.5 752.5,453.5 756.5,451.5 760.5,449.5 764.5,448.5 768.5,447.5 772.5,446.5 776.5,446.5 780.5,446.5 784.5,447.5 788.5,447.5 792.5,448.5 796.5,448.5 800.5,447.5 804.5,448.5 806.5,445.5 810.5,446.5 814.5,447.5 818.5,448.5 822.5,449.5 826.5,449.5 830.5,449.5 834.5,448.5 838.5,447.5 842.5,446.5 846.5,446.5 850.5,445.5 854.5,444.5 858.5,443.5 862.5,441.5 866.5,439.5 870.5,435.5 874.5,431.5 878.5,426.5 882.5,420.5 886.5,412.5 890.5,403.5 894.5,393.5 898.5,383.5 902.5,371.5 906.5,361.5 910.5,351.5 914.5,342.5 918.5,335.5 920.5,329.5 924.5,320.5 928.5,310.5 932.5,301.5 936.5,293.5 940.5,285.5 944.5,278.5 948.5,272.5 952.5,266.5 956.5,261.5 960.5,257.5 964.5,253.5 968.5,250.5 972.5,249.5 976.5,249.5 980.5,248.5 984.5,248.5 988.5,249.5 992.5,252.5 996.5,255.5 1000.5,257.5 1004.5,259.5 1008.5,260.5 1012.5,261.5 1016.5,263.5 1020.5,266.5 1024.5,269.5 1028.5,272.5 1032.5,274.5 1036.5,275.5 1040.5,277.5 1044.5,279.5 1048.5,282.5 1052.5,284.5 1056.5,287.5 1060.5,289.5 1064.5,291.5 1068.5,292.5 1072.5,294.5 1076.5,296.5 1080.5,296.5 1084.5,296.5 1088.5,295.5 1092.5,294.5 1096.5,294.5 1100.5,294.5 1104.5,294.5 1108.5,293.5 1112.5,291.5 1116.5,288.5 1120.5,283.5 1124.5,275.5 1128.5,266.5 1130.5,264.5" fill="none" stroke="#ffff00" stroke-width="1" />
<polyline points="6.5,512.5 10.5,506.5 14.5,499.5 18.5,491.5 19.5,489.5 22.5,489.5 26.5,483.5 30.5,475.5 34.5,465.5 38.5,454.5 42.5,441.5 46.5,431.5 50.5,414.5 54.5,402.5 58.5,396.5 62.5,382.5 66.5,371.5 70.5,365.5 74.5,361.5 78.5,358.5 82.5,349.5 86.5,337.5 90.5,331.5 94.5,333.5 98.5,332.5 102.5,328.5 106.5,324.5 110.5,321.5 114.5,311.5 118.5,302.5 122.5,297.5 126.5,296.5 130.5,299.5 134.5,304.5 138.5,310.5 142.5,311.5 146.5,326.5 150.5,336.5 154.5,342.5 158.5,345.5 162.5,341.5 166.5,341.5 170.5,347.5 174.5,342.5 178.5,336.5 182.5,332.5 186.5,326.5 190.5,320.5 195.5,318.5 199.5,318.5 203.5,315.5 207.5,311.5 210.5,308.5 214.5,309.5 218.5,312.5 222.5,316.5 226.5,314.5 230.5,312.5 234.5,312.5 238.5,314.5 242.5,310.5 246.5,307.5 250.5,302.5 254.5,298.5 258.5,293.5 262.5,290.5 266.5,287.5 270.5,281.5 274.5,275.5 278.5,271.5 282.5,270.5 286.5,267.5 290.5,263.5 294.5,262.5 298.5,261.5 302.5,257.5 306.5,255.5 310.5,249.5 314.5,245.5 318.5,241.5 322.5,236.5 326.5,231.5 330.5,227.5 334.5,223.5 338.5,220.5 342.5,222.5 346.5,229.5 350.5,234.5 354.5,240.5 358.5,246.5 362.5,252.5 366.5,255.5 370.5,250.5 374.5,245.5 378.5,240.5 382.5,237.5 386.5,238.5 390.5,239.5 394.5,239.5 398.5,243.5 402.5,246.5 406.5,245.5 410.5,242.5 414.5,239.5 418.5,238.5 422.5,239.5 426.5,236.5 430.5,247.5 434.5,257.5 438.5,266.5 442.5,276.5 446.5,284.5 450.5,289.5 454.5,294.5 458.5,295.5 462.5,291.5 466.5,287.5 470.5,285.5 474.5,284.5 478.5,284.5 482.5,284.5 486.5,279.5 490.5,276.5 494.5,276.5 498.5,277.5 502.5,279.5 506.5,282.5 510.5,287.5 514.5,292.5 518.5,294.5 522.5,297.5 526.5,301.5 530.5,304.5 534.5,308.5 538.5,318.5 542.5,328.5 544.5,335.5 548.5,350.5 552.5,364.5 556.5,377.5 560.5,388.5 564.5,393.5 568.5,393.5 572.5,390.5 576.5,384.5 580.5,379.5 584.5,377.5 588.5,379.5 592.5,385.5 596.5,393.5 600.5,405.5 604.5,416.5 608.5,421.5 612.5,423.5 616.5,421.5 620.5,417.5 624.5,410.5 628.5,396.5 632.5,390.5 636.5,389.5 640.5,386.5 644.5,385.5 648.5,387.5 652.5,392.5 656.5,401.5 660.5,409.5 664.5,417.5 668.5,429.5 672.5,442.5 676.5,453.5 680.5,463.5 684.5,466.5 688.5,467.5 692.5,468.5 696.5,466.5 700.5,461.5 704.5,453.5 708.5,447.5 710.5,445.5 714.5,447.5 718.5,447.5 722.5,445.5 726.5,445.5 730.5,446.5 734.5,449.5 738.5,454.5 742.5,454.5 746.5,451.5 750.5,451.5 754.5,450.5 758.5,448.5 762.5,445.5 766.5,441.5 770.5,440.5 774.5,440.5 778.5,440.5 782.5,442.5 786.5,445.5 790.5,446.5 794.5,447.5 798.5,447.5 802.5,448.5 806.5,449.5 810.5,449.5 814.5,450.5 818.5,453.5 822.5,456.5 826.5,456.5 830.5,456.5 834.5,453.5 838.5,448.5 842.5,444.5 846.5,437.5 850.5,433.5 854.5,429.5 858.5,426.5 862.5,426.5 866.5,420.5 870.5,411.5 874.5,402.5 878.5,387.5 882.5,371.5 883.5,368.5 886.5,350.5 890.5,328.5 894.5,308.5 898.5,290.5 902.5,274.5 906.5,262.5 910.5,253.5 914.5,251.5 918.5,248.5 922.5,248.5 926.5,250.5 930.5,253.5 934.5,254.5 938.5,254.5 942.5,253.5 946.5,254.5 950.5,253.5 954.5,251.5 958.5,250.5 962.5,248.5 966.5,247.5 970.5,247.5 974.5,247.5 978.5,246.5 982.5,245.5 986.5,244.5 990.5,249.5 994.5,258.5 998.5,267.5 1002.5,275.5 1006.5,282.5 1010.5,288.5 1014.5,293.5 1018.5,297.5 1022.5,300.5 1026.5,300.5 1030.5,298.5 1034.5,297.5 1038.5,299.5 1042.5,298.5 1046.5,294.5 1050.5,292.5 1054.5,291.5 1058.5,291.5 1062.5,292.5 1066.5,293.5 1070.5,294.5 1074.5,296.5 1078.5,297.5 1082.5,296.5 1086.5,295.5 1090.5,294.5 1094.5,294.5 1098.5,295.5 1102.5,294.5 1106.5,293.5 1110.5,290.5 1114.5,286.5 1118.5,273.5 1122.5,248.5 1126.5,222.5 1130.5,200.5" fill="none" stroke="#0000cd" stroke-width="1" />
</g>
<polygon points="1132,25 1142,25 1137,30.5" fill="#b4b4b4"/>
<g clip-path="url(#c2)" shape-rendering="crispEdges">
<rect x="6" y="578" width="1" height="57" fill="#c0c0c0"/>
<rect x="10" y="578" width="1" height="57" fill="#c0c0c0"/>
<rect x="14" y="578" width="1" height="57" fill="#c0c0c0"/>
<rect x="18" y="578" width="1" height="57" fill="#c0c0c0"/>
<rect x="22" y="578" width="1" height="57" fill="#c0c0c0"/>
<rect x="26" y="578" width="1" height="57" fill="#c0c0c0"/>
<rect x="30" y="578" width="1" height="57" fill="#c0c0c0"/>
<rect x="34" y="578" width="1" height="57" fill="#c0c0c0"/>
<rect x="38" y="578" width="1" height="57" fill="#c0c0c0"/>
<rect x="42" y="578" width="1" height="57" fill="#c0c0c0"/>
<rect x="46" y="578" width="1" height="57" fill="#c0c0c0"/>
<rect x="50" y="578" width="1" height="57" fill="#c0c0c0"/>
<rect x="54" y="578" width="1" height="57" fill="#c0c0c0"/>
<rect x="58" y="578" width="1" height="57" fill="#c0c0c0"/>
<rect x="62" y="578" width="1" height="57" fill="#c0c0c0"/>
<rect x="66" y="578" width="1" height="57" fill="#c0c0c0"/>
<rect x="70" y="578" width="1" height="57" fill="#c0c0c0"/>
<rect x="74" y="578" width="1" height="57" fill="#c0c0c0"/>
<rect x="78" y="578" width="1" height="57" fill="#c0c0c0"/>
<rect x="82" y="578" width="1" height="57" fill="#c0c0c0"/>
<rect x="86" y="578" width="1" height="57" fill="#c0c0c0"/>
<rect x="90" y="578" width="1" height="57" fill="#c0c0c0"/>
<rect x="94" y="584" width="1" height="51" fill="#c0c0c0"/>
<rect x="98" y="587" width="1" height="48" fill="#c0c0c0"/>
<rect x="102" y="589" width="1" height="46" fill="#c0c0c0"/>
<rect x="106" y="589" width="1" height="46" fill="#c0c0c0"/>
<rect x="110" y="588" width="1" height="47" fill="#c0c0c0"/>
<rect x="114" y="588" width="1" height="47" fill="#c0c0c0"/>
<rect x="118" y="586" width="1" height="49" fill="#c0c0c0"/>
<rect x="122" y="590" width="1" height="45" fill="#c0c0c0"/>
<rect x="126" y="595" width="1" height="40" fill="#c0c0c0"/>
<rect x="130" y="599" width="1" height="36" fill="#c0c0c0"/>
<rect x="134" y="604" width="1" height="31" fill="#c0c0c0"/>
<rect x="138" y="606" width="1" height="29" fill="#c0c0c0"/>
<rect x="142" y="606" width="1" height="29" fill="#c0c0c0"/>
<rect x="146" y="611" width="1" height="24" fill="#c0c0c0"/>
<rect x="150" y="617" width="1" height="18" fill="#c0c0c0"/>
<rect x="154" y="620" width="1" height="15" fill="#c0c0c0"/>
<rect x="158" y="623" width="1" height="12" fill="#c0c0c0"/>
<rect x="162" y="622" width="1" height="13" fill="#c0c0c0"/>
<rect x="166" y="622" width="1" height="13" fill="#c0c0c0"/>
<rect x="170" y="623" width="1" height="12" fill="#c0c0c0"/>
<rect x="174" y="623" width="1" height="12" fill="#c0c0c0"/>
<rect x="178" y="624" width="1" height="11" fill="#c0c0c0"/>
<rect x="182" y="624" width="1" height="11" fill="#c0c0c0"/>
<rect x="186" y="623" width="1" height="12" fill="#c0c0c0"/>
<rect x="190" y="623" width="1" height="12" fill="#c0c0c0"/>
<rect x="194" y="623" width="1" height="12" fill="#c0c0c0"/>
<rect x="198" y="624" width="1" height="11" fill="#c0c0c0"/>
<rect x="202" y="625" width="1" height="10" fill="#c0c0c0"/>
<rect x="206" y="624" width="1" height="11" fill="#c0c0c0"/>
<rect x="210" y="624" width="1" height="11" fill="#c0c0c0"/>
<rect x="214" y="624" width="1" height="11" fill="#c0c0c0"/>
<rect x="218" y="625" width="1" height="10" fill="#c0c0c0"/>
<rect x="222" y="627" width="1" height="8" fill="#c0c0c0"/>
<rect x="226" y="628" width="1" height="7" fill="#c0c0c0"/>
<rect x="230" y="628" width="1" height="7" fill="#c0c0c0"/>
<rect x="234" y="628" width="1" height="7" fill="#c0c0c0"/>
<rect x="238" y="627" width="1" height="8" fill="#c0c0c0"/>
<rect x="242" y="627" width="1" height="8" fill="#c0c0c0"/>
<rect x="246" y="626" width="1" height="9" fill="#c0c0c0"/>
<rect x="250" y="626" width="1" height="9" fill="#c0c0c0"/>
<rect x="254" y="625" width="1" height="10" fill="#c0c0c0"/>
<rect x="258" y="625" width="1" height="10" fill="#c0c0c0"/>
<rect x="262" y="624" width="1" height="11" fill="#c0c0c0"/>
<rect x="266" y="624" width="1" height="11" fill="#c0c0c0"/>
<rect x="270" y="622" width="1" height="13" fill="#c0c0c0"/>
<rect x="274" y="621" width="1" height="14" fill="#c0c0c0"/>
<rect x="278" y="620" width="1" height="15" fill="#c0c0c0"/>
<rect x="282" y="621" width="1" height="14" fill="#c0c0c0"/>
<rect x="286" y="621" width="1" height="14" fill="#c0c0c0"/>
<rect x="290" y="621" width="1" height="14" fill="#c0c0c0"/>
<rect x="294" y="621" width="1" height="14" fill="#c0c0c0"/>
<rect x="298" y="621" width="1" height="14" fill="#c0c0c0"/>
<rect x="302" y="620" width="1" height="15" fill="#c0c0c0"/>
<rect x="306" y="620" width="1" height="15" fill="#c0c0c0"/>
<rect x="310" y="619" width="1" height="16" fill="#c0c0c0"/>
<rect x="314" y="619" width="1" height="16" fill="#c0c0c0"/>
<rect x="318" y="618" width="1" height="17" fill="#c0c0c0"/>
<rect x="322" y="618" width="1" height="17" fill="#c0c0c0"/>
<rect x="326" y="618" width="1" height="17" fill="#c0c0c0"/>
<rect x="330" y="617" width="1" height="18" fill="#c0c0c0"/>
<rect x="334" y="616" width="1" height="19" fill="#c0c0c0"/>
<rect x="338" y="616" width="1" height="19" fill="#c0c0c0"/>
<rect x="342" y="618" width="1" height="17" fill="#c0c0c0"/>
<rect x="346" y="624" width="1" height="11" fill="#c0c0c0"/>
<rect x="350" y="626" width="1" height="9" fill="#c0c0c0"/>
<rect x="354" y="628" width="1" height="7" fill="#c0c0c0"/>
<rect x="358" y="629" width="1" height="6" fill="#c0c0c0"/>
<rect x="362" y="629" width="1" height="6" fill="#c0c0c0"/>
<rect x="366" y="629" width="1" height="6" fill="#c0c0c0"/>
<rect x="370" y="627" width="1" height="8" fill="#c0c0c0"/>
<rect x="374" y="627" width="1" height="8" fill="#c0c0c0"/>
<rect x="378" y="627" width="1" height="8" fill="#c0c0c0"/>
<rect x="382" y="629" width="1" height="6" fill="#c0c0c0"/>
<rect x="386" y="631" width="1" height="4" fill="#c0c0c0"/>
<rect x="390" y="631" width="1" height="4" fill="#c0c0c0"/>
<rect x="394" y="631" width="1" height="4" fill="#c0c0c0"/>
<rect x="398" y="632" width="1" height="3" fill="#c0c0c0"/>
<rect x="402" y="632" width="1" height="3" fill="#c0c0c0"/>
<rect x="406" y="632" width="1" height="3" fill="#c0c0c0"/>
<rect x="410" y="631" width="1" height="4" fill="#c0c0c0"/>
<rect x="414" y="630" width="1" height="5" fill="#c0c0c0"/>
<rect x="418" y="630" width="1" height="5" fill="#c0c0c0"/>
<rect x="422" y="631" width="1" height="4" fill="#c0c0c0"/>
<rect x="426" y="632" width="1" height="3" fill="#c0c0c0"/>
<rect x="430" y="634" width="1" height="1" fill="#c0c0c0"/>
<rect x="434" y="634" width="1" height="6" fill="#c0c0c0"/>
<rect x="438" y="634" width="1" height="9" fill="#c0c0c0"/>
<rect x="442" y="634" width="1" height="10" fill="#c0c0c0"/>
<rect x="446" y="634" width="1" height="10" fill="#c0c0c0"/>
<rect x="450" y="634" width="1" height="8" fill="#c0c0c0"/>
<rect x="454" y="634" width="1" height="8" fill="#c0c0c0"/>
<rect x="458" y="634" width="1" height="10" fill="#c0c0c0"/>
<rect x="462" y="634" width="1" height="11" fill="#c0c0c0"/>
<rect x="466" y="634" width="1" height="9" fill="#c0c0c0"/>
<rect x="470" y="634" width="1" height="9" fill="#c0c0c0"/>
<rect x="474" y="634" width="1" height="9" fill="#c0c0c0"/>
<rect x="478" y="634" width="1" height="8" fill="#c0c0c0"/>
<rect x="482" y="634" width="1" height="7" fill="#c0c0c0"/>
<rect x="486" y="634" width="1" height="5" fill="#c0c0c0"/>
<rect x="490" y="634" width="1" height="4" fill="#c0c0c0"/>
<rect x="494" y="634" width="1" height="4" fill="#c0c0c0"/>
<rect x="498" y="634" width="1" height="5" fill="#c0c0c0"/>
<rect x="502" y="634" width="1" height="6" fill="#c0c0c0"/>
<rect x="506" y="634" width="1" height="6" fill="#c0c0c0"/>
<rect x="510" y="634" width="1" height="7" fill="#c0c0c0"/>
<rect x="514" y="634" width="1" height="7" fill="#c0c0c0"/>
<rect x="518" y="634" width="1" height="7" fill="#c0c0c0"/>
<rect x="522" y="634" width="1" height="7" fill="#c0c0c0"/>
<rect x="526" y="634" width="1" height="8" fill="#c0c0c0"/>
<rect x="530" y="634" width="1" height="9" fill="#c0c0c0"/>
<rect x="534" y="634" width="1" height="10" fill="#c0c0c0"/>
<rect x="538" y="634" width="1" height="14" fill="#c0c0c0"/>
<rect x="542" y="634" width="1" height="18" fill="#c0c0c0"/>
<rect x="546" y="634" width="1" height="22" fill="#c0c0c0"/>
<rect x="550" y="634" width="1" height="25" fill="#c0c0c0"/>
<rect x="554" y="634" width="1" height="26" fill="#c0c0c0"/>
<rect x="558" y="634" width="1" height="28" fill="#c0c0c0"/>
<rect x="562" y="634" width="1" height="28" fill="#c0c0c0"/>
<rect x="566" y="634" width="1" height="26" fill="#c0c0c0"/>
<rect x="570" y="634" width="1" height="24" fill="#c0c0c0"/>
<rect x="574" y="634" width="1" height="22" fill="#c0c0c0"/>
<rect x="578" y="634" width="1" height="20" fill="#c0c0c0"/>
<rect x="582" y="634" width="1" height="20" fill="#c0c0c0"/>
<rect x="586" y="634" width="1" height="22" fill="#c0c0c0"/>
<rect x="590" y="634" width="1" height="23" fill="#c0c0c0"/>
<rect x="594" y="634" width="1" height="24" fill="#c0c0c0"/>
<rect x="598" y="634" width="1" height="26" fill="#c0c0c0"/>
<rect x="602" y="634" width="1" height="28" fill="#c0c0c0"/>
<rect x="606" y="634" width="1" height="26" fill="#c0c0c0"/>
<rect x="610" y="634" width="1" height="23" fill="#c0c0c0"/>
<rect x="614" y="634" width="1" height="22" fill="#c0c0c0"/>
<rect x="618" y="634" width="1" height="19" fill="#c0c0c0"/>
<rect x="622" y="634" width="1" height="16" fill="#c0c0c0"/>
<rect x="626" y="634" width="1" height="14" fill="#c0c0c0"/>
<rect x="630" y="634" width="1" height="11" fill="#c0c0c0"/>
<rect x="634" y="634" width="1" height="10" fill="#c0c0c0"/>
<rect x="638" y="634" width="1" height="9" fill="#c0c0c0"/>
<rect x="642" y="634" width="1" height="8" fill="#c0c0c0"/>
<rect x="646" y="634" width="1" height="8" fill="#c0c0c0"/>
<rect x="650" y="634" width="1" height="8" fill="#c0c0c0"/>
<rect x="654" y="634" width="1" height="10" fill="#c0c0c0"/>
<rect x="658" y="634" width="1" height="13" fill="#c0c0c0"/>
<rect x="662" y="634" width="1" height="14" fill="#c0c0c0"/>
<rect x="666" y="634" width="1" height="16" fill="#c0c0c0"/>
<rect x="670" y="634" width="1" height="19" fill="#c0c0c0"/>
<rect x="674" y="634" width="1" height="21" fill="#c0c0c0"/>
<rect x="678" y="634" width="1" height="23" fill="#c0c0c0"/>
<rect x="682" y="634" width="1" height="22" fill="#c0c0c0"/>
<rect x="686" y="634" width="1" height="20" fill="#c0c0c0"/>
<rect x="690" y="634" width="1" height="19" fill="#c0c0c0"/>
<rect x="694" y="634" width="1" height="18" fill="#c0c0c0"/>
<rect x="698" y="634" width="1" height="16" fill="#c0c0c0"/>
<rect x="702" y="634" width="1" height="15" fill="#c0c0c0"/>
<rect x="706" y="634" width="1" height="13" fill="#c0c0c0"/>
<rect x="710" y="634" width="1" height="12" fill="#c0c0c0"/>
<rect x="714" y="634" width="1" height="12" fill="#c0c0c0"/>
<rect x="718" y="634" width="1" height="12" fill="#c0c0c0"/>
<rect x="722" y="634" width="1" height="11" fill="#c0c0c0"/>
<rect x="726" y="634" width="1" height="10" fill="#c0c0c0"/>
<rect x="730" y="634" width="1" height="9" fill="#c0c0c0"/>
<rect x="734" y="634" width="1" height="9" fill="#c0c0c0"/>
<rect x="738" y="634" width="1" height="10" fill="#c0c0c0"/>
<rect x="742" y="634" width="1" height="9" fill="#c0c0c0"/>
<rect x="746" y="634" width="1" height="8" fill="#c0c0c0"/>
<rect x="750" y="634" width="1" height="7" fill="#c0c0c0"/>
<rect x="754" y="634" width="1" height="6" fill="#c0c0c0"/>
<rect x="758" y="634" width="1" height="5" fill="#c0c0c0"/>
<rect x="762" y="634" width="1" height="3" fill="#c0c0c0"/>
<rect x="766" y="634" width="1" height="3" fill="#c0c0c0"/>
<rect x="770" y="634" width="1" height="3" fill="#c0c0c0"/>
<rect x="774" y="634" width="1" height="2" fill="#c0c0c0"/>
<rect x="778" y="634" width="1" height="3" fill="#c0c0c0"/>
<rect x="782" y="634" width="1" height="3" fill="#c0c0c0"/>
<rect x="786" y="634" width="1" height="3" fill="#c0c0c0"/>
<rect x="790" y="634" width="1" height="3" fill="#c0c0c0"/>
<rect x="794" y="634" width="1" height="3" fill="#c0c0c0"/>
<rect x="798" y="634" width="1" height="3" fill="#c0c0c0"/>
<rect x="802" y="634" width="1" height="2" fill="#c0c0c0"/>
<rect x="806" y="634" width="1" height="3" fill="#c0c0c0"/>
<rect x="810" y="634" width="1" height="4" fill="#c0c0c0"/>
<rect x="814" y="634" width="1" height="4" fill="#c0c0c0"/>
<rect x="818" y="634" width="1" height="5" fill="#c0c0c0"/>
<rect x="822" y="634" width="1" height="5" fill="#c0c0c0"/>
<rect x="826" y="634" width="1" height="4" fill="#c0c0c0"/>
<rect x="830" y="634" width="1" height="3" fill="#c0c0c0"/>
<rect x="834" y="634" width="1" height="2" fill="#c0c0c0"/>
<rect x="838" y="634" width="1" height="1" fill="#c0c0c0"/>
<rect x="842" y="633" width="1" height="2" fill="#c0c0c0"/>
<rect x="846" y="633" width="1" height="2" fill="#c0c0c0"/>
<rect x="850" y="632" width="1" height="3" fill="#c0c0c0"/>
<rect x="854" y="632" width="1" height="3" fill="#c0c0c0"/>
<rect x="858" y="631" width="1" height="4" fill="#c0c0c0"/>
<rect x="862" y="631" width="1" height="4" fill="#c0c0c0"/>
<rect x="866" y="628" width="1" height="7" fill="#c0c0c0"/>
<rect x="870" y="625" width="1" height="10" fill="#c0c0c0"/>
<rect x="874" y="622" width="1" height="13" fill="#c0c0c0"/>
<rect x="878" y="618" width="1" height="17" fill="#c0c0c0"/>
<rect x="882" y="614" width="1" height="21" fill="#c0c0c0"/>
<rect x="886" y="607" width="1" height="28" fill="#c0c0c0"/>
<rect x="890" y="603" width="1" height="32" fill="#c0c0c0"/>
<rect x="894" y="600" width="1" height="35" fill="#c0c0c0"/>
<rect x="898" y="596" width="1" height="39" fill="#c0c0c0"/>
<rect x="902" y="593" width="1" height="42" fill="#c0c0c0"/>
<rect x="906" y="591" width="1" height="44" fill="#c0c0c0"/>
<rect x="910" y="591" width="1" height="44" fill="#c0c0c0"/>
<rect x="914" y="591" width="1" height="44" fill="#c0c0c0"/>
<rect x="918" y="592" width="1" height="43" fill="#c0c0c0"/>
<rect x="922" y="594" width="1" height="41" fill="#c0c0c0"/>
<rect x="926" y="596" width="1" height="39" fill="#c0c0c0"/>
<rect x="930" y="598" width="1" height="37" fill="#c0c0c0"/>
<rect x="934" y="599" width="1" height="36" fill="#c0c0c0"/>
<rect x="938" y="600" width="1" height="35" fill="#c0c0c0"/>
<rect x="942" y="601" width="1" height="34" fill="#c0c0c0"/>
<rect x="946" y="604" width="1" height="31" fill="#c0c0c0"/>
<rect x="950" y="605" width="1" height="30" fill="#c0c0c0"/>
<rect x="954" y="607" width="1" height="28" fill="#c0c0c0"/>
<rect x="958" y="608" width="1" height="27" fill="#c0c0c0"/>
<rect x="962" y="609" width="1" height="26" fill="#c0c0c0"/>
<rect x="966" y="610" width="1" height="25" fill="#c0c0c0"/>
<rect x="970" y="612" width="1" height="23" fill="#c0c0c0"/>
<rect x="974" y="613" width="1" height="22" fill="#c0c0c0"/>
<rect x="978" y="615" width="1" height="20" fill="#c0c0c0"/>
<rect x="982" y="616" width="1" height="19" fill="#c0c0c0"/>
<rect x="986" y="617" width="1" height="18" fill="#c0c0c0"/>
<rect x="990" y="620" width="1" height="15" fill="#c0c0c0"/>
<rect x="994" y="623" width="1" height="12" fill="#c0c0c0"/>
<rect x="998" y="628" width="1" height="7" fill="#c0c0c0"/>
<rect x="1002" y="631" width="1" height="4" fill="#c0c0c0"/>
<rect x="1006" y="633" width="1" height="2" fill="#c0c0c0"/>
<rect x="1010" y="634" width="1" height="1" fill="#c0c0c0"/>
<rect x="1014" y="634" width="1" height="1" fill="#c0c0c0"/>
<rect x="1018" y="634" width="1" height="2" fill="#c0c0c0"/>
<rect x="1022" y="634" width="1" height="3" fill="#c0c0c0"/>
<rect x="1026" y="634" width="1" height="5" fill="#c0c0c0"/>
<rect x="1030" y="634" width="1" height="4" fill="#c0c0c0"/>
<rect x="1034" y="634" width="1" height="4" fill="#c0c0c0"/>
<rect x="1038" y="634" width="1" height="5" fill="#c0c0c0"/>
<rect x="1042" y="634" width="1" height="3" fill="#c0c0c0"/>
<rect x="1046" y="634" width="1" height="3" fill="#c0c0c0"/>
<rect x="1050" y="634" width="1" height="3" fill="#c0c0c0"/>
<rect x="1054" y="634" width="1" height="4" fill="#c0c0c0"/>
<rect x="1058" y="634" width="1" height="5" fill="#c0c0c0"/>
<rect x="1062" y="634" width="1" height="4" fill="#c0c0c0"/>
<rect x="1066" y="634" width="1" height="4" fill="#c0c0c0"/>
<rect x="1070" y="634" width="1" height="4" fill="#c0c0c0"/>
<rect x="1074" y="634" width="1" height="4" fill="#c0c0c0"/>
<rect x="1078" y="634" width="1" height="4" fill="#c0c0c0"/>
<rect x="1082" y="634" width="1" height="4" fill="#c0c0c0"/>
<rect x="1086" y="634" width="1" height="3" fill="#c0c0c0"/>
<rect x="1090" y="634" width="1" height="3" fill="#c0c0c0"/>
<rect x="1094" y="634" width="1" height="3" fill="#c0c0c0"/>
<rect x="1098" y="634" width="1" height="3" fill="#c0c0c0"/>
<rect x="1102" y="634" width="1" height="3" fill="#c0c0c0"/>
<rect x="1106" y="634" width="1" height="2" fill="#c0c0c0"/>
<rect x="1110" y="634" width="1" height="1" fill="#c0c0c0"/>
<rect x="1114" y="634" width="1" height="1" fill="#c0c0c0"/>
<rect x="1118" y="629" width="1" height="6" fill="#c0c0c0"/>
<rect x="1122" y="624" width="1" height="11" fill="#c0c0c0"/>
<rect x="1126" y="611" width="1" height="24" fill="#c0c0c0"/>
<rect x="1130" y="604" width="1" height="31" fill="#c0c0c0"/>
</g>
<g clip-path="url(#c2)" shape-rendering="crispEdges"><polyline points="5.5,587.5 10.5,581.5 14.5,578.5 18.5,576.5 26.5,575.5 50.5,575.5 80.5,575.5 96.5,576.5 104.5,581.5 112.5,583.5 120.5,585.5 128.5,588.5 136.5,593.5 144.5,596.5 152.5,603.5 160.5,610.5 168.5,615.5 176.5,619.5 184.5,622.5 192.5,622.5 200.5,623.5 208.5,624.5 216.5,624.5 224.5,624.5 232.5,625.5 240.5,626.5 248.5,626.5 255.5,626.5 261.5,625.5 269.5,624.5 277.5,623.5 285.5,622.5 290.5,621.5 298.5,620.5 306.5,620.5 314.5,619.5 322.5,619.5 330.5,618.5 338.5,618.5 346.5,618.5 354.5,619.5 362.5,622.5 370.5,624.5 378.5,626.5 386.5,628.5 394.5,629.5 402.5,629.5 410.5,630.5 418.5,631.5 426.5,631.5 434.5,632.5 442.5,635.5 450.5,638.5 458.5,641.5 466.5,644.5 474.5,644.5 482.5,643.5 490.5,642.5 498.5,641.5 506.5,641.5 514.5,641.5 522.5,641.5 530.5,642.5 538.5,643.5 546.5,646.5 554.5,650.5 562.5,655.5 570.5,658.5 578.5,659.5 582.5,659.5 590.5,658.5 596.5,657.5 602.5,659.5 610.5,658.5 618.5,658.5 626.5,657.5 632.5,654.5 638.5,651.5 644.5,648.5 650.5,646.5 656.5,645.5 662.5,645.5 668.5,645.5 674.5,647.5 680.5,649.5 686.5,652.5 692.5,654.5 700.5,654.5 708.5,653.5 716.5,651.5 724.5,649.5 732.5,647.5 740.5,645.5 748.5,644.5 756.5,643.5 764.5,641.5 772.5,640.5 780.5,638.5 788.5,637.5 796.5,637.5 804.5,637.5 812.5,637.5 820.5,637.5 828.5,637.5 836.5,637.5 844.5,637.5 851.5,635.5 857.5,634.5 865.5,631.5 870.5,630.5 876.5,628.5 882.5,625.5 888.5,620.5 894.5,615.5 900.5,609.5 906.5,604.5 912.5,598.5 918.5,595.5 924.5,594.5 930.5,593.5 936.5,594.5 942.5,596.5 948.5,598.5 954.5,600.5 960.5,602.5 966.5,604.5 972.5,606.5 978.5,608.5 984.5,611.5 990.5,613.5 996.5,615.5 1002.5,619.5 1008.5,623.5 1014.5,626.5 1020.5,630.5 1026.5,633.5 1032.5,635.5 1038.5,637.5 1044.5,637.5 1050.5,638.5 1056.5,638.5 1062.5,638.5 1070.5,637.5 1078.5,637.5 1086.5,637.5 1094.5,637.5 1102.5,637.5 1110.5,637.5 1118.5,635.5 1122.5,633.5 1126.5,629.5 1130.5,628.5" fill="none" stroke="#ff0000" stroke-width="1" stroke-dasharray="3 3"/></g>
<g shape-rendering="crispEdges">
<line x1="6" x2="1421" y1="710.5" y2="710.5" stroke="#c0c0c0" stroke-width="1" stroke-dasharray="3 3"/>
<line x1="6" x2="1421" y1="761.5" y2="761.5" stroke="#c0c0c0" stroke-width="1" stroke-dasharray="3 3"/>
</g>
<g clip-path="url(#c3)" shape-rendering="crispEdges"><polyline points="6.5,703.0 10.5,703.0 14.5,699.5 18.5,697.0 22.5,708.5 26.5,706.3 30.5,708.5 34.5,705.5 38.5,703.5 42.5,701.2 46.5,699.5 50.5,697.0 54.5,699.5 58.5,717.5 62.5,708.5 66.5,708.5 70.5,708.5 74.5,710.5 78.5,708.5 82.5,704.2 86.5,712.5 90.5,711.1 94.5,724.5 98.5,721.5 102.5,718.5 106.5,715.5 110.5,713.1 114.5,711.5 118.5,706.5 122.5,724.5 126.5,731.5 130.5,730.5 134.5,732.5 138.5,727.5 142.5,723.1 146.5,737.5 150.5,739.5 154.5,737.5 158.5,735.5 162.5,727.5 166.5,731.5 170.5,733.2 174.5,731.2 178.5,731.5 182.5,733.2 186.5,727.5 190.5,727.5 194.5,726.5 198.5,736.5 202.5,733.5 206.5,727.5 210.5,725.1 214.5,732.5 218.5,733.5 222.5,737.5 226.5,734.5 230.5,731.2 234.5,730.5 238.5,727.5 242.5,726.5 246.5,729.5 250.5,726.5 254.5,728.5 258.5,724.5 262.5,726.5 266.5,725.1 270.5,719.1 274.5,722.5 278.5,719.1 282.5,734.5 286.5,726.3 290.5,725.5 294.5,728.5 298.5,724.5 302.5,721.1 306.5,723.5 310.5,722.5 314.5,722.5 318.5,721.5 322.5,720.3 326.5,719.5 330.5,715.1 334.5,714.5 338.5,714.3 342.5,736.5 346.5,745.5 350.5,738.5 354.5,737.5 358.5,736.5 362.5,731.5 366.5,728.3 370.5,723.5 374.5,730.5 378.5,731.5 382.5,736.5 386.5,739.5 390.5,734.5 394.5,732.4 398.5,736.5 402.5,736.5 406.5,731.2 410.5,730.5 414.5,728.5 418.5,733.5 422.5,735.5 426.5,730.3 430.5,753.5 434.5,757.5 438.5,752.5 442.5,748.5 446.5,745.5 450.5,737.2 454.5,742.5 458.5,748.5 462.5,744.5 466.5,737.5 470.5,739.5 474.5,741.5 478.5,737.2 482.5,739.5 486.5,733.2 490.5,737.5 494.5,739.5 498.5,739.5 502.5,744.5 506.5,742.5 510.5,746.5 514.5,747.5 518.5,740.5 522.5,742.5 526.5,747.5 530.5,752.5 534.5,750.5 538.5,759.5 542.5,764.5 546.5,768.5 550.5,768.5 554.5,763.5 558.5,765.5 562.5,755.5 566.5,746.5 570.5,747.2 574.5,742.5 578.5,748.5 582.5,747.2 586.5,756.5 590.5,756.5 594.5,757.5 598.5,765.5 602.5,764.5 606.5,745.5 610.5,740.5 614.5,744.5 618.5,740.5 622.5,738.4 626.5,737.5 630.5,733.5 634.5,741.5 638.5,737.5 642.5,738.5 646.5,740.4 650.5,741.2 654.5,748.5 658.5,754.5 662.5,750.5 666.5,755.5 670.5,758.5 674.5,758.5 678.5,760.5 682.5,752.5 686.5,745.2 690.5,747.2 694.5,748.5 698.5,744.5 702.5,737.5 706.5,738.5 710.5,738.5 714.5,745.5 718.5,747.5 722.5,739.5 726.5,742.5 730.5,739.5 734.5,740.5 738.5,751.5 742.5,742.5 746.5,735.5 750.5,739.5 754.5,736.5 758.5,731.5 762.5,731.5 766.5,737.5 770.5,737.5 774.5,735.5 778.5,740.5 782.5,739.5 786.5,742.5 790.5,737.5 794.5,737.5 798.5,737.5 802.5,733.5 806.5,742.5 810.5,744.5 814.5,738.5 818.5,752.5 822.5,740.5 826.5,735.5 830.5,730.5 834.5,727.5 838.5,724.5 842.5,728.3 846.5,728.3 850.5,728.5 854.5,732.5 858.5,725.5 862.5,730.5 866.5,715.1 870.5,712.5 874.5,710.5 878.5,704.2 882.5,702.5 886.5,694.2 890.5,698.5 894.5,698.5 898.5,695.5 902.5,694.5 906.5,699.5 910.5,702.5 914.5,700.5 918.5,705.5 922.5,711.1 926.5,713.5 930.5,711.5 934.5,709.5 938.5,707.5 942.5,709.5 946.5,717.5 950.5,716.3 954.5,715.1 958.5,715.1 962.5,711.1 966.5,711.1 970.5,721.5 974.5,720.5 978.5,719.5 982.5,718.5 986.5,721.1 990.5,738.5 994.5,741.2 998.5,752.5 1002.5,749.5 1006.5,744.5 1010.5,740.5 1014.5,741.2 1018.5,745.2 1022.5,747.2 1026.5,751.5 1030.5,739.2 1034.5,739.2 1038.5,742.5 1042.5,733.2 1046.5,735.2 1050.5,733.5 1054.5,742.5 1058.5,740.5 1062.5,738.5 1066.5,741.5 1070.5,737.5 1074.5,739.5 1078.5,741.5 1082.5,737.2 1086.5,736.5 1090.5,735.5 1094.5,741.5 1098.5,742.5 1102.5,736.5 1106.5,729.5 1110.5,731.5 1114.5,721.5 1118.5,704.2 1122.5,702.5 1126.5,686.5 1130.5,699.0" fill="none" stroke="#1e90ff" stroke-width="1" /></g>
<polygon points="6,795 6,800 11,800" fill="#c0c0c0"/>
<g shape-rendering="crispEdges" fill="none" stroke="#000" stroke-width="1">
<path d="M5.5,563.5 V24.5 H1421.5 V563.5 Z"/>
<path d="M5.5,668.5 V565.5 H1421.5 V668.5 Z"/>
<path d="M5.5,800.5 V670.5 H1421.5 V800.5 Z"/>
</g>
<rect x="6" y="80" width="1415" height="3" fill="#ff0000"/>
<rect x="5" y="78" width="7" height="7" fill="#ff0000"/><rect x="8" y="81" width="1" height="1" fill="#fff"/>
<rect x="1415" y="78" width="7" height="7" fill="#ff0000"/><rect x="1418" y="81" width="1" height="1" fill="#fff"/>
<rect x="6" y="217" width="1415" height="3" fill="#00ff00"/>
<rect x="5" y="215" width="7" height="7" fill="#00ff00"/><rect x="8" y="218" width="1" height="1" fill="#fff"/>
<rect x="1415" y="215" width="7" height="7" fill="#00ff00"/><rect x="1418" y="218" width="1" height="1" fill="#fff"/>
<rect x="6" y="273" width="1415" height="3" fill="#0000cd"/>
<rect x="5" y="271" width="7" height="7" fill="#0000cd"/><rect x="8" y="274" width="1" height="1" fill="#fff"/>
<rect x="1415" y="271" width="7" height="7" fill="#0000cd"/><rect x="1418" y="274" width="1" height="1" fill="#fff"/>
<rect x="6" y="348" width="1415" height="3" fill="#0000cd"/>
<g shape-rendering="crispEdges" fill="#000">
<rect x="1422" y="32" width="2" height="1"/>
<rect x="1422" y="65" width="2" height="1"/>
<rect x="1422" y="98" width="2" height="1"/>
<rect x="1422" y="131" width="2" height="1"/>
<rect x="1422" y="164" width="2" height="1"/>
<rect x="1422" y="197" width="2" height="1"/>
<rect x="1422" y="230" width="2" height="1"/>
<rect x="1422" y="263" width="2" height="1"/>
<rect x="1422" y="296" width="2" height="1"/>
<rect x="1422" y="329" width="2" height="1"/>
<rect x="1422" y="362" width="2" height="1"/>
<rect x="1422" y="395" width="2" height="1"/>
<rect x="1422" y="428" width="2" height="1"/>
<rect x="1422" y="461" width="2" height="1"/>
<rect x="1422" y="494" width="2" height="1"/>
<rect x="1422" y="527" width="2" height="1"/>
<rect x="1422" y="560" width="2" height="1"/>
<rect x="1422" y="634" width="2" height="1"/>
<rect x="1422" y="567" width="1" height="1"/>
<rect x="1422" y="667" width="1" height="1"/>
<rect x="1422" y="672" width="1" height="1"/>
<rect x="1422" y="799" width="1" height="1"/>
<rect x="6" y="801" width="1" height="3"/>
<rect x="70" y="801" width="1" height="3"/>
<rect x="134" y="801" width="1" height="3"/>
<rect x="198" y="801" width="1" height="3"/>
<rect x="262" y="801" width="1" height="3"/>
<rect x="326" y="801" width="1" height="3"/>
<rect x="390" y="801" width="1" height="3"/>
<rect x="454" y="801" width="1" height="3"/>
<rect x="518" y="801" width="1" height="3"/>
<rect x="582" y="801" width="1" height="3"/>
<rect x="646" y="801" width="1" height="3"/>
<rect x="710" y="801" width="1" height="3"/>
<rect x="774" y="801" width="1" height="3"/>
<rect x="838" y="801" width="1" height="3"/>
<rect x="902" y="801" width="1" height="3"/>
<rect x="966" y="801" width="1" height="3"/>
<rect x="1030" y="801" width="1" height="3"/>
<rect x="1094" y="801" width="1" height="3"/>
</g></svg>
<div class="ax" style="top:28px">7.15830</div>
<div class="ax" style="top:61px">7.12365</div>
<div class="ax" style="top:94px">7.08795</div>
<div class="ax" style="top:127px">7.05330</div>
<div class="ax" style="top:160px">7.01760</div>
<div class="ax" style="top:193px">6.98295</div>
<div class="ax" style="top:226px">6.94725</div>
<div class="ax" style="top:259px">6.91260</div>
<div class="ax" style="top:292px">6.87690</div>
<div class="ax" style="top:325px">6.84225</div>
<div class="ax" style="top:358px">6.80655</div>
<div class="ax" style="top:391px">6.77190</div>
<div class="ax" style="top:424px">6.73620</div>
<div class="ax" style="top:457px">6.70155</div>
<div class="ax" style="top:490px">6.66585</div>
<div class="ax" style="top:523px">6.63120</div>
<div class="ax" style="top:556px">6.59655</div>
<div class="tag" style="top:75px;background:#ff0000">7.10651</div>
<div class="tag" style="top:88px;background:#000">7.09376</div>
<div class="tag" style="top:212px;background:#00ff00">6.96044</div>
<div class="tag" style="top:268px;background:#0000cd">6.90100</div>
<div class="tag" style="top:343px;background:#0000cd">6.82103</div>
<div class="ax" style="top:568px;left:1425px">0.085164</div>
<div class="ax" style="top:630px;left:1425px">0.00</div>
<div class="ax" style="top:657px;left:1425px">-0.041597</div>
<div class="ax" style="top:673px;left:1425px">100</div>
<div class="ax" style="top:706px;left:1424px">70</div>
<div class="ax" style="top:757px;left:1424px">30</div>
<div class="ax" style="top:789px;left:1425px">0</div>
<div class="t" style="left:9px;top:31px;width:0;height:0;border-left:4px solid transparent;border-right:4px solid transparent;border-bottom:4px solid #000"></div>
<div class="t" style="left:21px;top:27px;font-size:10px;line-height:11px;letter-spacing:-0.3px">USDCNH-,Daily&nbsp; 7.12951 7.13265 7.09125 7.09376</div>
<div class="t" style="left:10px;top:569px;font-size:10px;line-height:11px;letter-spacing:-0.3px">MACD(12,26,9) 0.039845 0.009604</div>
<div class="t" style="left:10px;top:674px;font-size:10px;line-height:11px;letter-spacing:-0.3px">RSI(14) 78.4066</div>
<div class="dt" style="left:6px">5 Jul 2018</div>
<div class="dt" style="left:70px">30 Jul 2018</div>
<div class="dt" style="left:134px">21 Aug 2018</div>
<div class="dt" style="left:198px">12 Sep 2018</div>
<div class="dt" style="left:262px">4 Oct 2018</div>
<div class="dt" style="left:326px">26 Oct 2018</div>
<div class="dt" style="left:390px">19 Nov 2018</div>
<div class="dt" style="left:454px">11 Dec 2018</div>
<div class="dt" style="left:518px">2 Jan 2019</div>
<div class="dt" style="left:582px">24 Jan 2019</div>
<div class="dt" style="left:646px">15 Feb 2019</div>
<div class="dt" style="left:710px">11 Mar 2019</div>
<div class="dt" style="left:774px">2 Apr 2019</div>
<div class="dt" style="left:838px">25 Apr 2019</div>
<div class="dt" style="left:902px">17 May 2019</div>
<div class="dt" style="left:966px">10 Jun 2019</div>
<div class="dt" style="left:1030px">2 Jul 2019</div>
<div class="dt" style="left:1094px">24 Jul 2019</div>
<div class="abs" style="left:8px;top:43px;width:222px;height:66px;background:#fff"></div>
<div class="abs" style="left:9px;top:44px;width:52px;height:25px;background:linear-gradient(#5252ff,#3232e0);border-top:1px solid #2020d0;border-left:1px solid #2020d0;border-right:1px solid #2020d0;box-sizing:border-box;color:#fff;font-size:12px;text-align:center;line-height:23px;"><span style="display:inline-block;transform:scaleX(0.88)">SELL</span></div>
<div class="abs" style="left:176px;top:44px;width:52px;height:25px;background:linear-gradient(#5252ff,#3232e0);border-top:1px solid #2020d0;border-left:1px solid #2020d0;border-right:1px solid #2020d0;box-sizing:border-box;color:#fff;font-size:12px;text-align:center;line-height:23px;">BUY</div>
<div class="abs" style="left:9px;top:68px;width:109px;height:40px;background:linear-gradient(#3030dc,#0000a8);"></div>
<div class="abs" style="left:120px;top:68px;width:108px;height:40px;background:linear-gradient(#3030dc,#0000a8);"></div>
<div class="abs" style="left:13px;top:68px;width:44px;height:1px;background:#9090e8"></div>
<div class="abs" style="left:180px;top:68px;width:44px;height:1px;background:#9090e8"></div>
<div class="abs" style="left:63px;top:44px;width:111px;height:22px;background:#fff;border:1px solid #a8a8a8;box-sizing:border-box"></div>
<div class="abs" style="left:64px;top:45px;width:20px;height:20px;background:linear-gradient(#f4f4f4 0%,#e4e4e4 48%,#d0d0d0 52%,#d8d8d8 100%);border:1px solid #b0b0b0;box-sizing:border-box;"></div>
<div class="abs" style="left:153px;top:45px;width:20px;height:20px;background:linear-gradient(#f4f4f4 0%,#e4e4e4 48%,#d0d0d0 52%,#d8d8d8 100%);border:1px solid #b0b0b0;box-sizing:border-box;"></div>
<div class="abs" style="left:71px;top:53px;width:0;height:0;border-left:3px solid transparent;border-right:3px solid transparent;border-top:3px solid #5060c0"></div>
<div class="abs" style="left:160px;top:53px;width:0;height:0;border-left:3px solid transparent;border-right:3px solid transparent;border-bottom:3px solid #5060c0"></div>
<div class="t" style="left:100px;top:49px;width:49px;text-align:right;font-size:12px;line-height:12px">1.00</div>
<div class="t" style="left:29px;top:88px;font-size:12px;font-weight:bold;color:#fff;line-height:12px">7.09</div>
<div class="t" style="left:96px;top:72px;font-size:12px;font-weight:bold;color:#fff;line-height:12px">6</div>
<div class="t" style="left:139px;top:88px;font-size:12px;font-weight:bold;color:#fff;line-height:12px">7.09</div>
<div class="t" style="left:207px;top:72px;font-size:12px;font-weight:bold;color:#fff;line-height:12px">5</div>
<svg class="abs" style="left:0;top:0" width="240" height="120" viewBox="0 0 240 120"><defs><linearGradient id="pg" gradientUnits="userSpaceOnUse" x1="0" y1="68" x2="0" y2="108"><stop offset="0" stop-color="#3030dc"/><stop offset="1" stop-color="#0000a8"/></linearGradient></defs><g font-family="Liberation Sans, sans-serif" font-size="34" fill="#fff" stroke="url(#pg)" stroke-width="0.9"><text x="0" y="0" transform="translate(56.6,99.3) scale(0.93,1)">37</text><text x="0" y="0" transform="translate(167.6,99.3) scale(0.93,1)">60</text></g></svg>
<div class="abs" style="left:0;top:821px;width:1465px;height:1px;background:#dcdcdc"></div>
<div class="abs" style="left:0;top:823px;width:1465px;height:1px;background:#000"></div>
<div class="abs" style="left:0;top:824px;width:1465px;height:14px;background:#f0f0f0"></div>
<div class="abs" style="left:0;top:824px;width:1465px;height:1px;background:#fbfbfb"></div>
<div class="abs" style="left:0;top:821px;width:3px;height:17px;background:#fff"></div>
<div class="abs" style="left:1px;top:821px;width:1px;height:17px;background:#a0a0a0"></div>
<div class="abs" style="left:2px;top:821px;width:1px;height:17px;background:#696969"></div>
<div class="abs" style="left:1px;top:823px;width:3px;height:1px;background:#000"></div>
<div class="abs" style="left:3px;top:824px;width:1px;height:14px;background:#fff"></div>
<div class="abs" style="left:440px;top:822px;width:111px;height:16px;background:#fff;border-left:1px solid #000;border-right:1px solid #000;box-sizing:border-box"></div>
<div class="tab" style="left:18px;transform:scaleX(0.860);transform-origin:0 0">EURUSD-,Daily</div>
<div class="tab" style="left:125px;transform:scaleX(0.878);transform-origin:0 0">AUDUSD-,Daily</div>
<div class="tab" style="left:235.5px;transform:scaleX(0.852);transform-origin:0 0">USDCHF-,Daily</div>
<div class="tab" style="left:342.3px;transform:scaleX(0.870);transform-origin:0 0">USDCAD-,Daily</div>
<div class="tab" style="left:452px;color:#000;transform:scaleX(0.868);transform-origin:0 0">USDCNH-,Daily</div>
<div class="tab" style="left:562.6px;transform:scaleX(0.848);transform-origin:0 0">EURCHF-,Weekly</div>
<div class="tab" style="left:682.8px;transform:scaleX(0.886);transform-origin:0 0">XAUUSD-,Weekly</div>
<div class="tab" style="left:806px;transform:scaleX(0.846);transform-origin:0 0">GBPUSD-,H1</div>
<div class="tab" style="left:902.4px;transform:scaleX(0.898);transform-origin:0 0">UKOil-,H1</div>
<div class="tab" style="left:981.6px;transform:scaleX(0.885);transform-origin:0 0">USDX-,Weekly</div>
<div class="sep" style="left:115px"></div>
<div class="sep" style="left:223px"></div>
<div class="sep" style="left:331px"></div>
<div class="sep" style="left:672px"></div>
<div class="sep" style="left:795px"></div>
<div class="sep" style="left:891px"></div>
<div class="sep" style="left:971px"></div>
<div class="sep" style="left:1076px"></div>
<div class="abs" style="left:1437px;top:829px;width:0;height:0;border-top:3.5px solid transparent;border-bottom:3.5px solid transparent;border-right:3.5px solid #a0a0a0"></div>
<div class="abs" style="left:1456px;top:829px;width:0;height:0;border-top:3.5px solid transparent;border-bottom:3.5px solid transparent;border-left:3.5px solid #a0a0a0"></div>
</body></html>
